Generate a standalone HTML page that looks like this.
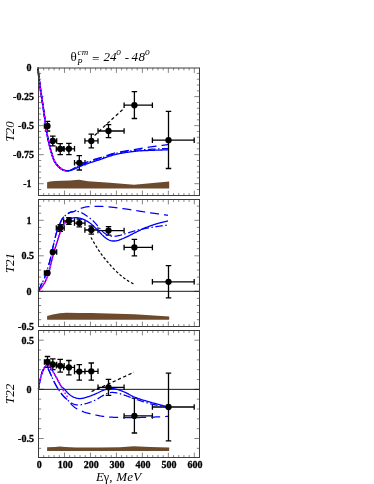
<!DOCTYPE html>
<html><head><meta charset="utf-8"><title>T20 T21 T22</title>
<style>
html,body{margin:0;padding:0;background:#fff;}
body{width:374px;height:484px;overflow:hidden;font-family:"Liberation Serif",serif;}
svg{display:block;will-change:transform;}
text{font-family:"Liberation Serif",serif;fill:#000;}
.tk{font-weight:bold;font-size:10px;stroke:#000;stroke-width:0.3px;}
.it{font-style:italic;font-size:13px;}
.sy{font-style:normal;}
</style></head><body>
<svg width="374" height="484" viewBox="0 0 374 484">
<rect width="374" height="484" fill="#fff"/>
<g>
<path d="M47.1 188.5 L47.1 182.3 L50 181.5 L55 181 L62 180.75 L70 180.6 L78.9 179.8 L88 181.2 L110 182.7 L134 184.7 L169.2 181.4 L169.2 188.5Z" fill="#6b4a2e"/>
<path d="M38.5 189.5h2.7M199.5 189.5h-2.7M38.5 183.7h5.2M199.5 183.7h-5.2M38.5 177.89h2.7M199.5 177.89h-2.7M38.5 172.09h2.7M199.5 172.09h-2.7M38.5 166.28h2.7M199.5 166.28h-2.7M38.5 160.48h2.7M199.5 160.48h-2.7M38.5 154.67h5.2M199.5 154.67h-5.2M38.5 148.87h2.7M199.5 148.87h-2.7M38.5 143.06h2.7M199.5 143.06h-2.7M38.5 137.26h2.7M199.5 137.26h-2.7M38.5 131.45h2.7M199.5 131.45h-2.7M38.5 125.65h5.2M199.5 125.65h-5.2M38.5 119.84h2.7M199.5 119.84h-2.7M38.5 114.04h2.7M199.5 114.04h-2.7M38.5 108.23h2.7M199.5 108.23h-2.7M38.5 102.43h2.7M199.5 102.43h-2.7M38.5 96.62h5.2M199.5 96.62h-5.2M38.5 90.82h2.7M199.5 90.82h-2.7M38.5 85.02h2.7M199.5 85.02h-2.7M38.5 79.21h2.7M199.5 79.21h-2.7M38.5 73.41h2.7M199.5 73.41h-2.7M43.69 195.5v-2.4M43.69 68v2.4M48.89 195.5v-2.4M48.89 68v2.4M54.08 195.5v-2.4M54.08 68v2.4M59.28 195.5v-2.4M59.28 68v2.4M64.47 195.5v-4.9M64.47 68v4.9M69.66 195.5v-2.4M69.66 68v2.4M74.86 195.5v-2.4M74.86 68v2.4M80.05 195.5v-2.4M80.05 68v2.4M85.25 195.5v-2.4M85.25 68v2.4M90.44 195.5v-4.9M90.44 68v4.9M95.63 195.5v-2.4M95.63 68v2.4M100.83 195.5v-2.4M100.83 68v2.4M106.02 195.5v-2.4M106.02 68v2.4M111.22 195.5v-2.4M111.22 68v2.4M116.41 195.5v-4.9M116.41 68v4.9M121.6 195.5v-2.4M121.6 68v2.4M126.8 195.5v-2.4M126.8 68v2.4M131.99 195.5v-2.4M131.99 68v2.4M137.19 195.5v-2.4M137.19 68v2.4M142.38 195.5v-4.9M142.38 68v4.9M147.57 195.5v-2.4M147.57 68v2.4M152.77 195.5v-2.4M152.77 68v2.4M157.96 195.5v-2.4M157.96 68v2.4M163.16 195.5v-2.4M163.16 68v2.4M168.35 195.5v-4.9M168.35 68v4.9M173.54 195.5v-2.4M173.54 68v2.4M178.74 195.5v-2.4M178.74 68v2.4M183.93 195.5v-2.4M183.93 68v2.4M189.13 195.5v-2.4M189.13 68v2.4M194.32 195.5v-4.9M194.32 68v4.9" stroke="#000" stroke-width="1" fill="none" opacity="0.48"/>
<path d="M44.4 126.1H48.9M47.5 121.3V131M44.4 123.35v5.5M48.9 123.35v5.5M44.75 121.3h5.5M44.75 131h5.5M51.4 141H56.7M52.8 136.2V145.9M51.4 138.25v5.5M56.7 138.25v5.5M50.05 136.2h5.5M50.05 145.9h5.5M56.3 148.9H64.2M60.2 143.6V154.6M56.3 146.15v5.5M64.2 146.15v5.5M57.45 143.6h5.5M57.45 154.6h5.5M63.6 148.8H74.5M68.9 143.3V154.6M63.6 146.05v5.5M74.5 146.05v5.5M66.15 143.3h5.5M66.15 154.6h5.5M74.5 162.8H85M79.3 155.6V170M74.5 160.05v5.5M85 160.05v5.5M76.55 155.6h5.5M76.55 170h5.5M84.9 140.9H98M91.3 134.1V147.9M84.9 138.15v5.5M98 138.15v5.5M88.55 134.1h5.5M88.55 147.9h5.5M98 131H124.1M108.5 124.7V137.7M98 128.25v5.5M124.1 128.25v5.5M105.75 124.7h5.5M105.75 137.7h5.5M124.1 105.2H152.4M134.4 91.7V118.5M124.1 102.45v5.5M152.4 102.45v5.5M131.65 91.7h5.5M131.65 118.5h5.5M152.4 140.2H194.2M168.5 111.3V168.5M152.4 137.45v5.5M194.2 137.45v5.5M165.75 111.3h5.5M165.75 168.5h5.5" stroke="#000" stroke-width="1.3" fill="none"/>
<path d="M37.9 67.9 L37.98 68.62 L38.05 69.34 L38.13 70.06 L38.21 70.78 L38.28 71.5 L38.36 72.22 L38.44 72.94 L38.51 73.66 L38.59 74.38 L38.67 75.1 L38.75 75.82 L38.83 76.54 L38.91 77.26 L39 77.97 L39.08 78.69 L39.17 79.41 L39.26 80.13 L39.36 80.85 L39.45 81.57 L39.55 82.28 L39.64 83 L39.74 83.72 L39.84 84.44 L39.93 85.15 L40.03 85.87 L40.13 86.59 L40.23 87.3 L40.33 88.02 L40.42 88.74 L40.52 89.46 L40.62 90.17 L40.72 90.89 L40.83 91.61 L40.93 92.32 L41.03 93.04 L41.13 93.76 L41.24 94.47 L41.34 95.19 L41.44 95.9 L41.55 96.62 L41.66 97.34 L41.77 98.05 L41.87 98.77 L41.98 99.48 L42.09 100.2 L42.2 100.91 L42.31 101.63 L42.42 102.35 L42.53 103.06 L42.64 103.78 L42.75 104.49 L42.86 105.21 L42.96 105.92 L43.07 106.64 L43.18 107.36 L43.29 108.07 L43.4 108.79 L43.5 109.5 L43.61 110.22 L43.72 110.94 L43.82 111.65 L43.93 112.37 L44.04 113.08 L44.14 113.8 L44.25 114.52 L44.35 115.23 L44.46 115.95 L44.56 116.66 L44.66 117.38 L44.76 118.1 L44.86 118.81 L44.97 119.53 L45.07 120.25 L45.16 120.97 L45.26 121.68 L45.35 122.4 L45.45 123.12 L45.54 123.84 L45.63 124.55 L45.72 125.27 L45.82 125.99 L45.91 126.71 L46.01 127.43 L46.1 128.14 L46.21 128.86 L46.31 129.58 L46.42 130.29 L46.53 131.01 L46.65 131.72 L46.77 132.43 L46.9 133.15 L47.03 133.86 L47.16 134.57 L47.3 135.28 L47.44 135.99 L47.58 136.7 L47.72 137.41 L47.86 138.12 L48.01 138.83 L48.16 139.54 L48.31 140.25 L48.46 140.95 L48.62 141.66 L48.78 142.37 L48.94 143.07 L49.1 143.78 L49.27 144.48 L49.43 145.19 L49.6 145.89 L49.77 146.6 L49.94 147.3 L50.12 148 L50.31 148.7 L50.51 149.4 L50.72 150.09 L50.93 150.78 L51.13 151.48 L51.33 152.18 L51.54 152.88 L51.74 153.58 L51.95 154.28 L52.16 154.97 L52.37 155.67 L52.59 156.36 L52.82 157.05 L53.06 157.73 L53.3 158.41 L53.56 159.08 L53.83 159.75 L54.12 160.41 L54.42 161.06 L54.76 161.69 L55.13 162.32 L55.52 162.93 L55.94 163.52 L56.38 164.11 L56.84 164.68 L57.3 165.24 L57.78 165.79 L58.26 166.34 L58.75 166.86 L59.27 167.36 L59.83 167.83 L60.41 168.27 L61.02 168.68 L61.63 169.07 L62.25 169.44 L62.9 169.76 L63.57 170.04 L64.26 170.28 L64.95 170.49 L65.66 170.67 L66.38 170.8 L67.11 170.86 L67.82 170.82 L68.53 170.68 L69.23 170.47 L69.92 170.23 L70.59 169.97 L71.25 169.67 L71.91 169.36 L72.55 169.03 L73.19 168.7 L73.82 168.34 L74.44 167.96 L75.06 167.58 L75.69 167.22 L76.33 166.88 L76.97 166.55 L77.62 166.23 L78.26 165.9 L78.91 165.57 L79.56 165.25 L80.21 164.93 L80.86 164.61 L81.51 164.3 L82.17 164 L82.83 163.7 L83.5 163.41 L84.16 163.13 L84.83 162.86 L85.5 162.59 L86.18 162.33 L86.86 162.07 L87.53 161.82 L88.21 161.57 L88.89 161.32 L89.58 161.08 L90.26 160.84 L90.94 160.6 L91.63 160.36 L92.31 160.12 L93 159.89 L93.68 159.65 L94.37 159.42 L95.05 159.18 L95.74 158.96 L96.43 158.74 L97.12 158.54 L97.82 158.34 L98.52 158.14 L99.21 157.94 L99.9 157.73 L100.6 157.51 L101.29 157.29 L101.97 157.07 L102.66 156.84 L103.35 156.61 L104.04 156.38 L104.72 156.15 L105.41 155.91 L106.1 155.68 L106.78 155.45 L107.47 155.22 L108.16 154.99 L108.85 154.77 L109.54 154.54 L110.23 154.33 L110.92 154.11 L111.61 153.91 L112.31 153.71 L113 153.51 L113.7 153.32 L114.4 153.15 L115.1 152.98 L115.81 152.81 L116.51 152.65 L117.22 152.5 L117.92 152.35 L118.63 152.2 L119.34 152.06 L120.05 151.92 L120.76 151.79 L121.47 151.66 L122.19 151.53 L122.9 151.4 L123.61 151.27 L124.33 151.15 L125.04 151.03 L125.76 150.91 L126.47 150.79 L127.19 150.68 L127.9 150.56 L128.62 150.45 L129.33 150.33 L130.05 150.22 L130.76 150.1 L131.48 149.98 L132.19 149.87 L132.91 149.75 L133.62 149.63 L134.34 149.51 L135.05 149.39 L135.77 149.27 L136.48 149.15 L137.19 149.03 L137.91 148.91 L138.62 148.79 L139.33 148.67 L140.05 148.55 L140.76 148.43 L141.48 148.32 L142.19 148.2 L142.91 148.09 L143.62 147.97 L144.34 147.86 L145.05 147.75 L145.77 147.64 L146.48 147.53 L147.2 147.42 L147.91 147.31 L148.63 147.2 L149.35 147.1 L150.06 146.99 L150.78 146.89 L151.49 146.79 L152.21 146.68 L152.93 146.58 L153.65 146.49 L154.36 146.39 L155.08 146.29 L155.8 146.19 L156.52 146.1 L157.23 146 L157.95 145.91 L158.67 145.82 L159.39 145.72 L160.1 145.63 L160.82 145.54 L161.54 145.44 L162.26 145.35 L162.98 145.26 L163.69 145.16 L164.41 145.07 L165.13 144.98 L165.85 144.88 L166.56 144.79 L167.28 144.7 L168 144.6" fill="none" stroke="#0000ff" stroke-width="1.25" stroke-dasharray="9 5" stroke-linecap="butt" stroke-linejoin="round"/>
<path d="M37.9 67.9 L37.98 68.62 L38.05 69.34 L38.13 70.05 L38.21 70.77 L38.28 71.49 L38.36 72.21 L38.43 72.93 L38.51 73.64 L38.59 74.36 L38.67 75.08 L38.75 75.8 L38.83 76.51 L38.91 77.23 L38.99 77.95 L39.08 78.66 L39.17 79.38 L39.26 80.1 L39.35 80.81 L39.45 81.53 L39.54 82.24 L39.64 82.96 L39.73 83.67 L39.83 84.39 L39.93 85.11 L40.03 85.82 L40.12 86.54 L40.22 87.25 L40.32 87.97 L40.42 88.68 L40.52 89.4 L40.62 90.11 L40.72 90.83 L40.82 91.54 L40.92 92.26 L41.02 92.97 L41.12 93.69 L41.23 94.4 L41.33 95.11 L41.43 95.83 L41.54 96.54 L41.65 97.26 L41.75 97.97 L41.86 98.68 L41.97 99.4 L42.08 100.11 L42.19 100.83 L42.3 101.54 L42.41 102.25 L42.52 102.97 L42.63 103.68 L42.73 104.39 L42.84 105.11 L42.95 105.82 L43.06 106.53 L43.16 107.25 L43.27 107.96 L43.38 108.68 L43.49 109.39 L43.59 110.1 L43.7 110.82 L43.81 111.53 L43.91 112.25 L44.02 112.96 L44.12 113.67 L44.23 114.39 L44.33 115.1 L44.44 115.82 L44.54 116.53 L44.64 117.25 L44.74 117.96 L44.85 118.68 L44.95 119.39 L45.05 120.11 L45.14 120.82 L45.24 121.54 L45.33 122.25 L45.43 122.97 L45.52 123.68 L45.61 124.4 L45.7 125.12 L45.8 125.83 L45.89 126.55 L45.98 127.26 L46.08 127.98 L46.18 128.69 L46.28 129.41 L46.39 130.12 L46.5 130.84 L46.62 131.55 L46.74 132.26 L46.87 132.97 L47 133.68 L47.13 134.39 L47.27 135.1 L47.4 135.81 L47.54 136.52 L47.68 137.22 L47.83 137.93 L47.97 138.64 L48.12 139.35 L48.27 140.05 L48.42 140.76 L48.57 141.46 L48.73 142.17 L48.89 142.87 L49.05 143.58 L49.22 144.28 L49.38 144.98 L49.55 145.68 L49.71 146.39 L49.89 147.09 L50.06 147.79 L50.25 148.49 L50.44 149.18 L50.65 149.87 L50.86 150.56 L51.07 151.26 L51.27 151.96 L51.47 152.65 L51.67 153.35 L51.88 154.05 L52.09 154.74 L52.3 155.44 L52.52 156.13 L52.74 156.82 L52.97 157.5 L53.22 158.18 L53.47 158.85 L53.74 159.52 L54.02 160.18 L54.31 160.83 L54.63 161.47 L54.99 162.09 L55.37 162.71 L55.78 163.31 L56.22 163.89 L56.67 164.47 L57.13 165.03 L57.6 165.59 L58.08 166.13 L58.56 166.66 L59.07 167.17 L59.61 167.65 L60.18 168.1 L60.78 168.52 L61.39 168.92 L62 169.3 L62.63 169.64 L63.3 169.93 L63.98 170.19 L64.67 170.4 L65.36 170.6 L66.08 170.74 L66.8 170.83 L67.52 170.85 L68.24 170.79 L68.95 170.67 L69.66 170.5 L70.35 170.29 L71.03 170.05 L71.7 169.78 L72.37 169.49 L73.02 169.19 L73.66 168.86 L74.29 168.5 L74.91 168.14 L75.54 167.79 L76.19 167.46 L76.84 167.14 L77.49 166.83 L78.14 166.52 L78.79 166.21 L79.44 165.9 L80.1 165.59 L80.76 165.29 L81.41 164.99 L82.07 164.7 L82.74 164.42 L83.4 164.14 L84.07 163.87 L84.74 163.61 L85.42 163.35 L86.09 163.09 L86.77 162.84 L87.45 162.6 L88.13 162.35 L88.81 162.11 L89.49 161.87 L90.17 161.64 L90.86 161.4 L91.54 161.17 L92.22 160.94 L92.91 160.71 L93.59 160.47 L94.28 160.24 L94.96 160.01 L95.65 159.79 L96.34 159.58 L97.03 159.37 L97.72 159.18 L98.42 158.98 L99.11 158.77 L99.8 158.56 L100.49 158.34 L101.17 158.12 L101.86 157.88 L102.54 157.65 L103.22 157.41 L103.91 157.16 L104.59 156.92 L105.27 156.68 L105.95 156.43 L106.63 156.19 L107.31 155.95 L108 155.71 L108.68 155.47 L109.36 155.24 L110.05 155.01 L110.73 154.79 L111.42 154.57 L112.11 154.36 L112.8 154.16 L113.5 153.97 L114.2 153.79 L114.9 153.62 L115.6 153.46 L116.3 153.31 L117 153.16 L117.71 153.01 L118.42 152.87 L119.12 152.73 L119.83 152.6 L120.54 152.47 L121.25 152.34 L121.97 152.22 L122.68 152.1 L123.39 151.98 L124.11 151.87 L124.82 151.76 L125.54 151.65 L126.25 151.55 L126.97 151.44 L127.68 151.34 L128.4 151.24 L129.12 151.15 L129.83 151.05 L130.55 150.96 L131.27 150.87 L131.99 150.77 L132.7 150.68 L133.42 150.6 L134.14 150.51 L134.85 150.42 L135.57 150.33 L136.28 150.25 L137 150.18 L137.72 150.1 L138.44 150.04 L139.16 149.97 L139.88 149.92 L140.6 149.86 L141.32 149.81 L142.04 149.76 L142.76 149.71 L143.48 149.67 L144.2 149.62 L144.92 149.58 L145.64 149.54 L146.36 149.5 L147.09 149.46 L147.81 149.42 L148.53 149.38 L149.25 149.34 L149.97 149.3 L150.69 149.26 L151.41 149.22 L152.13 149.18 L152.85 149.15 L153.57 149.11 L154.3 149.08 L155.02 149.04 L155.74 149.01 L156.46 148.98 L157.18 148.95 L157.9 148.92 L158.62 148.89 L159.34 148.86 L160.07 148.83 L160.79 148.8 L161.51 148.77 L162.23 148.74 L162.95 148.71 L163.67 148.68 L164.39 148.65 L165.11 148.62 L165.84 148.59 L166.56 148.56 L167.28 148.53 L168 148.5" fill="none" stroke="#0000ff" stroke-width="1.25" stroke-dasharray="7.5 2.5 1.5 2.5" stroke-linecap="butt" stroke-linejoin="round"/>
<path d="M37.9 67.9 L37.98 68.62 L38.05 69.33 L38.13 70.05 L38.21 70.77 L38.28 71.48 L38.36 72.2 L38.43 72.92 L38.51 73.63 L38.59 74.35 L38.66 75.07 L38.74 75.78 L38.82 76.5 L38.91 77.22 L38.99 77.93 L39.08 78.65 L39.17 79.36 L39.26 80.08 L39.35 80.79 L39.44 81.51 L39.54 82.22 L39.63 82.94 L39.73 83.65 L39.83 84.36 L39.92 85.08 L40.02 85.79 L40.12 86.51 L40.22 87.22 L40.31 87.93 L40.41 88.65 L40.51 89.36 L40.61 90.08 L40.71 90.79 L40.81 91.5 L40.91 92.22 L41.01 92.93 L41.12 93.64 L41.22 94.36 L41.32 95.07 L41.43 95.78 L41.53 96.5 L41.64 97.21 L41.75 97.92 L41.85 98.64 L41.96 99.35 L42.07 100.06 L42.18 100.77 L42.29 101.49 L42.4 102.2 L42.51 102.91 L42.62 103.62 L42.73 104.34 L42.83 105.05 L42.94 105.76 L43.05 106.47 L43.15 107.19 L43.26 107.9 L43.37 108.61 L43.48 109.33 L43.58 110.04 L43.69 110.75 L43.8 111.46 L43.9 112.18 L44.01 112.89 L44.11 113.6 L44.22 114.32 L44.32 115.03 L44.43 115.74 L44.53 116.46 L44.63 117.17 L44.73 117.88 L44.83 118.6 L44.93 119.31 L45.03 120.02 L45.13 120.74 L45.23 121.45 L45.32 122.17 L45.42 122.88 L45.51 123.6 L45.6 124.31 L45.69 125.03 L45.78 125.74 L45.88 126.46 L45.97 127.17 L46.07 127.88 L46.17 128.6 L46.27 129.31 L46.38 130.02 L46.49 130.74 L46.6 131.45 L46.72 132.16 L46.85 132.87 L46.98 133.58 L47.11 134.29 L47.25 134.99 L47.38 135.7 L47.52 136.41 L47.66 137.12 L47.8 137.82 L47.95 138.53 L48.09 139.24 L48.24 139.94 L48.39 140.64 L48.55 141.35 L48.71 142.05 L48.87 142.76 L49.03 143.46 L49.19 144.16 L49.35 144.86 L49.52 145.56 L49.69 146.27 L49.86 146.97 L50.03 147.67 L50.21 148.36 L50.41 149.06 L50.61 149.75 L50.82 150.44 L51.03 151.13 L51.23 151.83 L51.43 152.52 L51.64 153.22 L51.84 153.92 L52.05 154.61 L52.26 155.3 L52.47 155.99 L52.7 156.68 L52.93 157.37 L53.17 158.04 L53.42 158.72 L53.68 159.38 L53.96 160.04 L54.25 160.69 L54.56 161.33 L54.91 161.96 L55.29 162.58 L55.7 163.18 L56.12 163.77 L56.57 164.35 L57.03 164.91 L57.5 165.47 L57.97 166.01 L58.45 166.55 L58.95 167.06 L59.48 167.55 L60.05 168 L60.64 168.43 L61.25 168.83 L61.86 169.21 L62.48 169.57 L63.14 169.87 L63.82 170.13 L64.51 170.36 L65.2 170.55 L65.9 170.7 L66.62 170.8 L67.34 170.85 L68.06 170.84 L68.78 170.79 L69.5 170.69 L70.21 170.56 L70.91 170.39 L71.6 170.19 L72.29 169.96 L72.97 169.71 L73.63 169.43 L74.27 169.11 L74.92 168.78 L75.56 168.45 L76.21 168.15 L76.87 167.85 L77.53 167.56 L78.19 167.26 L78.84 166.96 L79.5 166.67 L80.16 166.38 L80.82 166.09 L81.48 165.8 L82.15 165.53 L82.82 165.26 L83.49 164.99 L84.16 164.74 L84.84 164.49 L85.52 164.25 L86.2 164.02 L86.88 163.79 L87.57 163.56 L88.25 163.34 L88.94 163.12 L89.62 162.9 L90.31 162.68 L91 162.47 L91.69 162.25 L92.38 162.04 L93.06 161.82 L93.75 161.6 L94.44 161.38 L95.12 161.16 L95.81 160.94 L96.5 160.72 L97.18 160.5 L97.87 160.29 L98.56 160.07 L99.24 159.85 L99.93 159.62 L100.61 159.39 L101.3 159.16 L101.98 158.92 L102.66 158.68 L103.34 158.44 L104.02 158.19 L104.7 157.94 L105.37 157.69 L106.05 157.45 L106.73 157.2 L107.41 156.95 L108.09 156.71 L108.77 156.47 L109.45 156.24 L110.14 156.01 L110.82 155.78 L111.51 155.56 L112.2 155.35 L112.89 155.15 L113.58 154.96 L114.27 154.78 L114.97 154.61 L115.67 154.44 L116.37 154.28 L117.08 154.13 L117.78 153.98 L118.48 153.83 L119.19 153.69 L119.9 153.55 L120.61 153.42 L121.32 153.29 L122.03 153.16 L122.74 153.03 L123.45 152.91 L124.16 152.8 L124.87 152.68 L125.59 152.57 L126.3 152.46 L127.01 152.35 L127.73 152.25 L128.44 152.15 L129.16 152.05 L129.88 151.95 L130.59 151.85 L131.31 151.76 L132.02 151.67 L132.74 151.58 L133.45 151.49 L134.17 151.4 L134.88 151.31 L135.6 151.23 L136.31 151.15 L137.03 151.08 L137.75 151.02 L138.47 150.96 L139.18 150.91 L139.9 150.86 L140.62 150.81 L141.34 150.77 L142.06 150.73 L142.78 150.7 L143.5 150.66 L144.22 150.63 L144.95 150.6 L145.67 150.58 L146.39 150.55 L147.11 150.52 L147.83 150.49 L148.55 150.46 L149.27 150.43 L149.99 150.4 L150.71 150.37 L151.43 150.34 L152.15 150.31 L152.87 150.28 L153.59 150.25 L154.31 150.23 L155.03 150.2 L155.75 150.18 L156.47 150.15 L157.19 150.13 L157.91 150.11 L158.63 150.08 L159.35 150.06 L160.07 150.04 L160.8 150.02 L161.52 150 L162.24 149.98 L162.96 149.96 L163.68 149.93 L164.4 149.91 L165.12 149.89 L165.84 149.87 L166.56 149.85 L167.28 149.82 L168 149.8" fill="none" stroke="#0000ff" stroke-width="1.3" stroke-linecap="butt" stroke-linejoin="round"/>
<path d="M37.9 67.9 L37.94 68.27 L37.98 68.64 L38.02 69.02 L38.06 69.39 L38.1 69.76 L38.14 70.13 L38.18 70.5 L38.22 70.88 L38.26 71.25 L38.3 71.62 L38.34 71.99 L38.37 72.36 L38.41 72.74 L38.45 73.11 L38.49 73.48 L38.53 73.85 L38.57 74.23 L38.61 74.6 L38.65 74.97 L38.69 75.34 L38.74 75.71 L38.78 76.08 L38.82 76.46 L38.86 76.83 L38.91 77.2 L38.95 77.57 L38.99 77.94 L39.04 78.31 L39.08 78.69 L39.13 79.06 L39.18 79.43 L39.22 79.8 L39.27 80.17 L39.32 80.54 L39.37 80.91 L39.41 81.28 L39.46 81.66 L39.51 82.03 L39.56 82.4 L39.61 82.77 L39.66 83.14 L39.71 83.51 L39.76 83.88 L39.81 84.25 L39.86 84.62 L39.91 84.99 L39.96 85.36 L40.01 85.73 L40.06 86.1 L40.11 86.48 L40.17 86.85 L40.22 87.22 L40.27 87.59 L40.32 87.96 L40.37 88.33 L40.42 88.7 L40.47 89.07 L40.52 89.44 L40.57 89.81 L40.63 90.18 L40.68 90.55 L40.73 90.92 L40.78 91.29 L40.83 91.66 L40.89 92.03 L40.94 92.41 L40.99 92.78 L41.04 93.15 L41.1 93.52 L41.15 93.89 L41.2 94.26 L41.26 94.63 L41.31 95 L41.37 95.37 L41.42 95.74 L41.47 96.11 L41.53 96.48 L41.58 96.85 L41.64 97.22 L41.7 97.59 L41.75 97.96 L41.81 98.33 L41.86 98.7 L41.92 99.07 L41.98 99.44 L42.03 99.81 L42.09 100.18 L42.15 100.55 L42.2 100.92 L42.26 101.29 L42.32 101.66 L42.37 102.03 L42.43 102.4 L42.49 102.77 L42.54 103.14 L42.6 103.51 L42.66 103.88 L42.71 104.25 L42.77 104.62 L42.82 104.99 L42.88 105.36 L42.93 105.73 L42.99 106.1 L43.05 106.47 L43.1 106.84 L43.16 107.21 L43.21 107.58 L43.27 107.95 L43.32 108.32 L43.38 108.69 L43.44 109.06 L43.49 109.43 L43.55 109.8 L43.6 110.17 L43.66 110.54 L43.71 110.91 L43.77 111.28 L43.82 111.65 L43.88 112.02 L43.93 112.39 L43.99 112.76 L44.04 113.13 L44.1 113.5 L44.15 113.87 L44.21 114.24 L44.26 114.61 L44.31 114.98 L44.37 115.35 L44.42 115.72 L44.48 116.09 L44.53 116.46 L44.58 116.83 L44.64 117.2 L44.69 117.57 L44.74 117.94 L44.79 118.31 L44.85 118.68 L44.9 119.05 L44.95 119.42 L45 119.79 L45.05 120.16 L45.1 120.53 L45.16 120.91 L45.21 121.28 L45.26 121.65 L45.3 122.02 L45.35 122.39 L45.4 122.76 L45.45 123.13 L45.5 123.5 L45.54 123.87 L45.59 124.24 L45.64 124.62 L45.69 124.99 L45.73 125.36 L45.78 125.73 L45.83 126.1 L45.88 126.47 L45.93 126.84 L45.98 127.21 L46.03 127.58 L46.08 127.96 L46.13 128.33 L46.18 128.7 L46.23 129.07 L46.29 129.44 L46.34 129.81 L46.4 130.18 L46.46 130.55 L46.52 130.92 L46.58 131.28 L46.64 131.65 L46.7 132.02 L46.76 132.39 L46.83 132.76 L46.9 133.13 L46.96 133.5 L47.03 133.86 L47.1 134.23 L47.17 134.6 L47.24 134.97 L47.31 135.33 L47.38 135.7 L47.45 136.07 L47.53 136.44 L47.6 136.8 L47.67 137.17 L47.75 137.54 L47.82 137.9 L47.9 138.27 L47.97 138.64 L48.05 139 L48.12 139.37 L48.2 139.74 L48.28 140.1 L48.36 140.47 L48.44 140.83 L48.52 141.2 L48.6 141.56 L48.68 141.93 L48.76 142.29 L48.84 142.66 L48.93 143.02 L49.01 143.39 L49.1 143.75 L49.18 144.12 L49.27 144.48 L49.35 144.85 L49.44 145.21 L49.52 145.58 L49.61 145.94 L49.69 146.3 L49.78 146.67 L49.87 147.03 L49.96 147.39 L50.05 147.76 L50.15 148.12 L50.25 148.48 L50.35 148.84 L50.45 149.2 L50.56 149.56 L50.67 149.92 L50.77 150.28 L50.88 150.63 L50.99 150.99 L51.09 151.35 L51.2 151.72 L51.3 152.08 L51.41 152.44 L51.51 152.8 L51.62 153.16 L51.72 153.52 L51.83 153.88 L51.94 154.25 L52.04 154.61 L52.15 154.97 L52.26 155.33 L52.38 155.69 L52.49 156.04 L52.6 156.4 L52.72 156.76 L52.84 157.11 L52.96 157.47 L53.09 157.82 L53.21 158.17 L53.34 158.52 L53.48 158.87 L53.61 159.21 L53.75 159.56 L53.9 159.9 L54.04 160.24 L54.2 160.58 L54.35 160.91 L54.52 161.24 L54.69 161.57 L54.88 161.9 L55.07 162.22 L55.27 162.54 L55.47 162.85 L55.68 163.16 L55.9 163.47 L56.13 163.77 L56.36 164.08 L56.59 164.37 L56.83 164.67 L57.07 164.96 L57.31 165.25 L57.56 165.54 L57.8 165.82 L58.05 166.1 L58.3 166.38 L58.55 166.65 L58.81 166.92 L59.07 167.18 L59.35 167.43 L59.64 167.68 L59.93 167.91 L60.24 168.14 L60.54 168.36 L60.85 168.57 L61.17 168.78 L61.49 168.98 L61.8 169.18 L62.12 169.37 L62.45 169.55 L62.79 169.71 L63.13 169.87 L63.48 170.01 L63.83 170.14 L64.19 170.26 L64.55 170.37 L64.91 170.47 L65.27 170.57 L65.63 170.64 L66.01 170.69 L66.38 170.73 L66.75 170.77 L67.13 170.8 L67.5 170.85" fill="none" stroke="#0000ff" stroke-width="1.7" stroke-linecap="butt" stroke-linejoin="round"/>
<path d="M37.9 67.9 L37.94 68.27 L37.98 68.64 L38.02 69.02 L38.06 69.39 L38.1 69.76 L38.14 70.13 L38.18 70.5 L38.22 70.88 L38.26 71.25 L38.3 71.62 L38.34 71.99 L38.37 72.36 L38.41 72.74 L38.45 73.11 L38.49 73.48 L38.53 73.85 L38.57 74.23 L38.61 74.6 L38.65 74.97 L38.69 75.34 L38.74 75.71 L38.78 76.08 L38.82 76.46 L38.86 76.83 L38.91 77.2 L38.95 77.57 L38.99 77.94 L39.04 78.31 L39.08 78.69 L39.13 79.06 L39.18 79.43 L39.22 79.8 L39.27 80.17 L39.32 80.54 L39.37 80.91 L39.41 81.28 L39.46 81.66 L39.51 82.03 L39.56 82.4 L39.61 82.77 L39.66 83.14 L39.71 83.51 L39.76 83.88 L39.81 84.25 L39.86 84.62 L39.91 84.99 L39.96 85.36 L40.01 85.73 L40.06 86.1 L40.11 86.48 L40.17 86.85 L40.22 87.22 L40.27 87.59 L40.32 87.96 L40.37 88.33 L40.42 88.7 L40.47 89.07 L40.52 89.44 L40.57 89.81 L40.63 90.18 L40.68 90.55 L40.73 90.92 L40.78 91.29 L40.83 91.66 L40.89 92.03 L40.94 92.41 L40.99 92.78 L41.04 93.15 L41.1 93.52 L41.15 93.89 L41.2 94.26 L41.26 94.63 L41.31 95 L41.37 95.37 L41.42 95.74 L41.47 96.11 L41.53 96.48 L41.58 96.85 L41.64 97.22 L41.7 97.59 L41.75 97.96 L41.81 98.33 L41.86 98.7 L41.92 99.07 L41.98 99.44 L42.03 99.81 L42.09 100.18 L42.15 100.55 L42.2 100.92 L42.26 101.29 L42.32 101.66 L42.37 102.03 L42.43 102.4 L42.49 102.77 L42.54 103.14 L42.6 103.51 L42.66 103.88 L42.71 104.25 L42.77 104.62 L42.82 104.99 L42.88 105.36 L42.93 105.73 L42.99 106.1 L43.05 106.47 L43.1 106.84 L43.16 107.21 L43.21 107.58 L43.27 107.95 L43.32 108.32 L43.38 108.69 L43.44 109.06 L43.49 109.43 L43.55 109.8 L43.6 110.17 L43.66 110.54 L43.71 110.91 L43.77 111.28 L43.82 111.65 L43.88 112.02 L43.93 112.39 L43.99 112.76 L44.04 113.13 L44.1 113.5 L44.15 113.87 L44.21 114.24 L44.26 114.61 L44.31 114.98 L44.37 115.35 L44.42 115.72 L44.48 116.09 L44.53 116.46 L44.58 116.83 L44.64 117.2 L44.69 117.57 L44.74 117.94 L44.79 118.31 L44.85 118.68 L44.9 119.05 L44.95 119.42 L45 119.79 L45.05 120.16 L45.1 120.53 L45.16 120.91 L45.21 121.28 L45.26 121.65 L45.3 122.02 L45.35 122.39 L45.4 122.76 L45.45 123.13 L45.5 123.5 L45.54 123.87 L45.59 124.24 L45.64 124.62 L45.69 124.99 L45.73 125.36 L45.78 125.73 L45.83 126.1 L45.88 126.47 L45.93 126.84 L45.98 127.21 L46.03 127.58 L46.08 127.96 L46.13 128.33 L46.18 128.7 L46.23 129.07 L46.29 129.44 L46.34 129.81 L46.4 130.18 L46.46 130.55 L46.52 130.92 L46.58 131.28 L46.64 131.65 L46.7 132.02 L46.76 132.39 L46.83 132.76 L46.9 133.13 L46.96 133.5 L47.03 133.86 L47.1 134.23 L47.17 134.6 L47.24 134.97 L47.31 135.33 L47.38 135.7 L47.45 136.07 L47.53 136.44 L47.6 136.8 L47.67 137.17 L47.75 137.54 L47.82 137.9 L47.9 138.27 L47.97 138.64 L48.05 139 L48.12 139.37 L48.2 139.74 L48.28 140.1 L48.36 140.47 L48.44 140.83 L48.52 141.2 L48.6 141.56 L48.68 141.93 L48.76 142.29 L48.84 142.66 L48.93 143.02 L49.01 143.39 L49.1 143.75 L49.18 144.12 L49.27 144.48 L49.35 144.85 L49.44 145.21 L49.52 145.58 L49.61 145.94 L49.69 146.3 L49.78 146.67 L49.87 147.03 L49.96 147.39 L50.05 147.76 L50.15 148.12 L50.25 148.48 L50.35 148.84 L50.45 149.2 L50.56 149.56 L50.67 149.92 L50.77 150.28 L50.88 150.63 L50.99 150.99 L51.09 151.35 L51.2 151.72 L51.3 152.08 L51.41 152.44 L51.51 152.8 L51.62 153.16 L51.72 153.52 L51.83 153.88 L51.94 154.25 L52.04 154.61 L52.15 154.97 L52.26 155.33 L52.38 155.69 L52.49 156.04 L52.6 156.4 L52.72 156.76 L52.84 157.11 L52.96 157.47 L53.09 157.82 L53.21 158.17 L53.34 158.52 L53.48 158.87 L53.61 159.21 L53.75 159.56 L53.9 159.9 L54.04 160.24 L54.2 160.58 L54.35 160.91 L54.52 161.24 L54.69 161.57 L54.88 161.9 L55.07 162.22 L55.27 162.54 L55.47 162.85 L55.68 163.16 L55.9 163.47 L56.13 163.77 L56.36 164.08 L56.59 164.37 L56.83 164.67 L57.07 164.96 L57.31 165.25 L57.56 165.54 L57.8 165.82 L58.05 166.1 L58.3 166.38 L58.55 166.65 L58.81 166.92 L59.07 167.18 L59.35 167.43 L59.64 167.68 L59.93 167.91 L60.24 168.14 L60.54 168.36 L60.85 168.57 L61.17 168.78 L61.49 168.98 L61.8 169.18 L62.12 169.37 L62.45 169.55 L62.79 169.71 L63.13 169.87 L63.48 170.01 L63.83 170.14 L64.19 170.26 L64.55 170.37 L64.91 170.47 L65.27 170.57 L65.63 170.64 L66.01 170.69 L66.38 170.73 L66.75 170.77 L67.13 170.8 L67.5 170.85" fill="none" stroke="#ff00ff" stroke-width="2.0" stroke-dasharray="0.1 3.4" stroke-linecap="round" stroke-linejoin="round"/>
<path d="M94.6 135.5 L94.7 135.41 L94.8 135.32 L94.89 135.22 L94.99 135.13 L95.09 135.04 L95.19 134.95 L95.29 134.85 L95.38 134.76 L95.48 134.67 L95.58 134.58 L95.68 134.48 L95.78 134.39 L95.87 134.3 L95.97 134.21 L96.07 134.11 L96.17 134.02 L96.27 133.93 L96.36 133.84 L96.46 133.74 L96.56 133.65 L96.66 133.56 L96.76 133.47 L96.85 133.37 L96.95 133.28 L97.05 133.19 L97.15 133.1 L97.25 133 L97.34 132.91 L97.44 132.82 L97.54 132.73 L97.64 132.63 L97.73 132.54 L97.83 132.45 L97.93 132.36 L98.03 132.26 L98.13 132.17 L98.22 132.08 L98.32 131.99 L98.42 131.89 L98.52 131.8 L98.62 131.71 L98.71 131.62 L98.81 131.52 L98.91 131.43 L99.01 131.34 L99.1 131.25 L99.2 131.15 L99.3 131.06 L99.4 130.97 L99.5 130.88 L99.59 130.78 L99.69 130.69 L99.79 130.6 L99.89 130.51 L99.98 130.41 L100.08 130.32 L100.18 130.23 L100.28 130.14 L100.38 130.04 L100.47 129.95 L100.57 129.86 L100.67 129.77 L100.77 129.67 L100.87 129.58 L100.96 129.49 L101.06 129.4 L101.16 129.3 L101.26 129.21 L101.35 129.12 L101.45 129.03 L101.55 128.93 L101.65 128.84 L101.75 128.75 L101.84 128.66 L101.94 128.56 L102.04 128.47 L102.14 128.38 L102.24 128.29 L102.33 128.19 L102.43 128.1 L102.53 128.01 L102.63 127.92 L102.73 127.82 L102.82 127.73 L102.92 127.64 L103.02 127.55 L103.12 127.45 L103.22 127.36 L103.31 127.27 L103.41 127.18 L103.51 127.09 L103.61 126.99 L103.71 126.9 L103.81 126.81 L103.9 126.72 L104 126.62 L104.1 126.53 L104.2 126.44 L104.3 126.35 L104.39 126.26 L104.49 126.16 L104.59 126.07 L104.69 125.98 L104.79 125.89 L104.89 125.8 L104.98 125.7 L105.08 125.61 L105.18 125.52 L105.28 125.43 L105.38 125.34 L105.48 125.24 L105.57 125.15 L105.67 125.06 L105.77 124.97 L105.87 124.88 L105.97 124.78 L106.07 124.69 L106.17 124.6 L106.26 124.51 L106.36 124.42 L106.46 124.33 L106.56 124.23 L106.66 124.14 L106.76 124.05 L106.86 123.96 L106.95 123.87 L107.05 123.78 L107.15 123.68 L107.25 123.59 L107.35 123.5 L107.45 123.41 L107.55 123.32 L107.65 123.23 L107.75 123.14 L107.84 123.04 L107.94 122.95 L108.04 122.86 L108.14 122.77 L108.24 122.68 L108.34 122.59 L108.44 122.5 L108.54 122.4 L108.64 122.31 L108.74 122.22 L108.83 122.13 L108.93 122.04 L109.03 121.95 L109.13 121.86 L109.23 121.77 L109.33 121.68 L109.43 121.58 L109.53 121.49 L109.63 121.4 L109.73 121.31 L109.83 121.22 L109.93 121.13 L110.03 121.04 L110.13 120.95 L110.22 120.86 L110.32 120.77 L110.42 120.68 L110.52 120.58 L110.62 120.49 L110.72 120.4 L110.82 120.31 L110.92 120.22 L111.02 120.13 L111.12 120.04 L111.22 119.95 L111.32 119.86 L111.42 119.77 L111.52 119.68 L111.62 119.59 L111.72 119.5 L111.82 119.4 L111.92 119.31 L112.02 119.22 L112.11 119.13 L112.21 119.04 L112.31 118.95 L112.41 118.86 L112.51 118.77 L112.61 118.68 L112.71 118.59 L112.81 118.5 L112.91 118.41 L113.01 118.32 L113.11 118.23 L113.21 118.14 L113.31 118.05 L113.41 117.95 L113.51 117.86 L113.61 117.77 L113.71 117.68 L113.81 117.59 L113.91 117.5 L114.01 117.41 L114.11 117.32 L114.21 117.23 L114.31 117.14 L114.41 117.05 L114.51 116.96 L114.61 116.87 L114.71 116.78 L114.81 116.69 L114.91 116.6 L115.01 116.51 L115.11 116.42 L115.21 116.33 L115.31 116.24 L115.41 116.15 L115.51 116.06 L115.61 115.97 L115.71 115.88 L115.81 115.79 L115.91 115.7 L116.01 115.6 L116.11 115.51 L116.21 115.42 L116.31 115.33 L116.41 115.24 L116.51 115.15 L116.61 115.06 L116.71 114.97 L116.81 114.88 L116.91 114.79 L117.01 114.7 L117.11 114.61 L117.21 114.52 L117.31 114.43 L117.41 114.34 L117.51 114.25 L117.61 114.16 L117.71 114.07 L117.81 113.98 L117.91 113.89 L118.01 113.8 L118.11 113.71 L118.21 113.62 L118.31 113.53 L118.41 113.44 L118.51 113.35 L118.61 113.26 L118.71 113.17 L118.81 113.08 L118.91 112.99 L119.01 112.9 L119.11 112.81 L119.21 112.72 L119.31 112.63 L119.41 112.54 L119.51 112.45 L119.61 112.36 L119.71 112.27 L119.81 112.18 L119.91 112.08 L120.01 111.99 L120.11 111.9 L120.21 111.81 L120.3 111.72 L120.4 111.63 L120.5 111.54 L120.6 111.45 L120.7 111.36 L120.8 111.27 L120.9 111.18 L121 111.09 L121.1 111 L121.2 110.91 L121.3 110.82 L121.4 110.73 L121.5 110.64 L121.6 110.55 L121.7 110.46 L121.8 110.37 L121.9 110.28 L122 110.19 L122.1 110.1 L122.2 110.01 L122.3 109.92 L122.4 109.83 L122.5 109.74 L122.6 109.65 L122.7 109.56 L122.8 109.47 L122.9 109.38 L123 109.29 L123.1 109.19 L123.2 109.1 L123.3 109.01 L123.4 108.92 L123.5 108.83 L123.6 108.74 L123.7 108.65 L123.8 108.56 L123.9 108.47 L124 108.38 L124.1 108.29 L124.2 108.2" fill="none" stroke="#000" stroke-width="1.25" stroke-dasharray="3.3 2.5" stroke-linecap="butt" stroke-linejoin="round"/>
<circle cx="47.5" cy="126.1" r="3.15" fill="#000"/>
<circle cx="52.8" cy="141" r="3.15" fill="#000"/>
<circle cx="60.2" cy="148.9" r="3.15" fill="#000"/>
<circle cx="68.9" cy="148.8" r="3.15" fill="#000"/>
<circle cx="79.3" cy="162.8" r="3.15" fill="#000"/>
<circle cx="91.3" cy="140.9" r="3.15" fill="#000"/>
<circle cx="108.5" cy="131" r="3.15" fill="#000"/>
<circle cx="134.4" cy="105.2" r="3.15" fill="#000"/>
<circle cx="168.5" cy="140.2" r="3.15" fill="#000"/>
<rect x="38.5" y="68" width="161" height="127.5" fill="none" stroke="#3c3c3c" stroke-width="1"/>
<text x="31.5" y="71" text-anchor="end" class="tk">0</text>
<text x="33.9" y="100.03" text-anchor="end" class="tk">-0.25</text>
<text x="33.9" y="129.05" text-anchor="end" class="tk">-0.5</text>
<text x="33.9" y="158.07" text-anchor="end" class="tk">-0.75</text>
<text x="31.5" y="187.1" text-anchor="end" class="tk">-1</text>
</g>
<g>
<path d="M47.1 319.7 L47.1 315.9 L52.8 314.4 L59.9 313.2 L66.2 312.7 L79.3 312.9 L91.3 313.1 L108.5 313.4 L134.4 314.3 L169.2 316.5 L169.2 319.7Z" fill="#6b4a2e"/>
<path d="M38.5 291.3H199.5" stroke="#1a1a1a" stroke-width="1"/>
<path d="M38.5 319.7h2.7M199.5 319.7h-2.7M38.5 312.6h2.7M199.5 312.6h-2.7M38.5 305.5h2.7M199.5 305.5h-2.7M38.5 298.4h2.7M199.5 298.4h-2.7M38.5 291.3h5.2M199.5 291.3h-5.2M38.5 284.2h2.7M199.5 284.2h-2.7M38.5 277.1h2.7M199.5 277.1h-2.7M38.5 270h2.7M199.5 270h-2.7M38.5 262.9h2.7M199.5 262.9h-2.7M38.5 255.8h5.2M199.5 255.8h-5.2M38.5 248.7h2.7M199.5 248.7h-2.7M38.5 241.6h2.7M199.5 241.6h-2.7M38.5 234.5h2.7M199.5 234.5h-2.7M38.5 227.4h2.7M199.5 227.4h-2.7M38.5 220.3h5.2M199.5 220.3h-5.2M38.5 213.2h2.7M199.5 213.2h-2.7M38.5 206.1h2.7M199.5 206.1h-2.7M43.69 326.5v-2.4M43.69 199.5v2.4M48.89 326.5v-2.4M48.89 199.5v2.4M54.08 326.5v-2.4M54.08 199.5v2.4M59.28 326.5v-2.4M59.28 199.5v2.4M64.47 326.5v-4.9M64.47 199.5v4.9M69.66 326.5v-2.4M69.66 199.5v2.4M74.86 326.5v-2.4M74.86 199.5v2.4M80.05 326.5v-2.4M80.05 199.5v2.4M85.25 326.5v-2.4M85.25 199.5v2.4M90.44 326.5v-4.9M90.44 199.5v4.9M95.63 326.5v-2.4M95.63 199.5v2.4M100.83 326.5v-2.4M100.83 199.5v2.4M106.02 326.5v-2.4M106.02 199.5v2.4M111.22 326.5v-2.4M111.22 199.5v2.4M116.41 326.5v-4.9M116.41 199.5v4.9M121.6 326.5v-2.4M121.6 199.5v2.4M126.8 326.5v-2.4M126.8 199.5v2.4M131.99 326.5v-2.4M131.99 199.5v2.4M137.19 326.5v-2.4M137.19 199.5v2.4M142.38 326.5v-4.9M142.38 199.5v4.9M147.57 326.5v-2.4M147.57 199.5v2.4M152.77 326.5v-2.4M152.77 199.5v2.4M157.96 326.5v-2.4M157.96 199.5v2.4M163.16 326.5v-2.4M163.16 199.5v2.4M168.35 326.5v-4.9M168.35 199.5v4.9M173.54 326.5v-2.4M173.54 199.5v2.4M178.74 326.5v-2.4M178.74 199.5v2.4M183.93 326.5v-2.4M183.93 199.5v2.4M189.13 326.5v-2.4M189.13 199.5v2.4M194.32 326.5v-4.9M194.32 199.5v4.9" stroke="#000" stroke-width="1" fill="none" opacity="0.48"/>
<path d="M44.4 272.9H48.9M47.5 272.6V273.2M44.4 270.15v5.5M48.9 270.15v5.5M44.75 272.6h5.5M44.75 273.2h5.5M51.4 252.1H56.7M52.8 251.8V252.4M51.4 249.35v5.5M56.7 249.35v5.5M50.05 251.8h5.5M50.05 252.4h5.5M56.3 228H64.2M60.2 224.6V231.4M56.3 225.25v5.5M64.2 225.25v5.5M57.45 224.6h5.5M57.45 231.4h5.5M63.6 221H74.5M68.9 217.6V224.4M63.6 218.25v5.5M74.5 218.25v5.5M66.15 217.6h5.5M66.15 224.4h5.5M74.5 223.1H85M79.3 219V226.9M74.5 220.35v5.5M85 220.35v5.5M76.55 219h5.5M76.55 226.9h5.5M84.9 230H98M91.3 226V234.1M84.9 227.25v5.5M98 227.25v5.5M88.55 226h5.5M88.55 234.1h5.5M98 230.6H124.1M108.5 226.6V235.2M98 227.85v5.5M124.1 227.85v5.5M105.75 226.6h5.5M105.75 235.2h5.5M124.1 247.4H152.4M134.4 239.4V255.9M124.1 244.65v5.5M152.4 244.65v5.5M131.65 239.4h5.5M131.65 255.9h5.5M152.4 281.8H194.2M168.5 265.7V297.8M152.4 279.05v5.5M194.2 279.05v5.5M165.75 265.7h5.5M165.75 297.8h5.5" stroke="#000" stroke-width="1.3" fill="none"/>
<path d="M38.5 291 L38.75 290.43 L38.99 289.86 L39.23 289.28 L39.48 288.71 L39.72 288.14 L39.97 287.57 L40.22 287 L40.48 286.44 L40.75 285.87 L41.03 285.32 L41.31 284.76 L41.6 284.21 L41.88 283.66 L42.17 283.1 L42.44 282.55 L42.71 281.99 L42.97 281.42 L43.23 280.86 L43.49 280.29 L43.74 279.72 L43.99 279.15 L44.24 278.58 L44.48 278 L44.71 277.43 L44.94 276.85 L45.15 276.26 L45.36 275.68 L45.56 275.09 L45.75 274.5 L45.94 273.91 L46.13 273.31 L46.31 272.72 L46.49 272.12 L46.67 271.52 L46.85 270.93 L47.03 270.33 L47.21 269.74 L47.39 269.14 L47.57 268.55 L47.75 267.95 L47.94 267.36 L48.12 266.76 L48.31 266.17 L48.49 265.57 L48.67 264.98 L48.85 264.38 L49.03 263.79 L49.2 263.19 L49.38 262.59 L49.55 261.99 L49.71 261.4 L49.88 260.8 L50.04 260.19 L50.2 259.59 L50.35 258.99 L50.51 258.39 L50.66 257.78 L50.8 257.18 L50.95 256.57 L51.09 255.97 L51.23 255.36 L51.37 254.76 L51.5 254.15 L51.62 253.54 L51.74 252.93 L51.86 252.32 L51.98 251.71 L52.1 251.1 L52.23 250.49 L52.35 249.88 L52.48 249.27 L52.61 248.66 L52.74 248.05 L52.88 247.45 L53.02 246.84 L53.15 246.23 L53.29 245.63 L53.43 245.02 L53.57 244.41 L53.71 243.81 L53.86 243.2 L54 242.6 L54.14 241.99 L54.29 241.39 L54.43 240.78 L54.58 240.18 L54.72 239.57 L54.86 238.96 L55 238.36 L55.14 237.75 L55.28 237.14 L55.42 236.54 L55.57 235.93 L55.73 235.33 L55.89 234.73 L56.05 234.13 L56.23 233.54 L56.41 232.94 L56.6 232.35 L56.8 231.76 L57.01 231.17 L57.21 230.59 L57.43 230 L57.65 229.42 L57.87 228.84 L58.09 228.26 L58.32 227.68 L58.55 227.1 L58.79 226.52 L59.02 225.95 L59.26 225.37 L59.49 224.79 L59.72 224.21 L59.95 223.62 L60.18 223.04 L60.42 222.46 L60.67 221.89 L60.92 221.32 L61.19 220.75 L61.46 220.2 L61.75 219.66 L62.06 219.12 L62.39 218.6 L62.75 218.1 L63.14 217.62 L63.56 217.15 L64 216.7 L64.45 216.26 L64.92 215.84 L65.4 215.43 L65.88 215.04 L66.37 214.66 L66.87 214.29 L67.39 213.94 L67.92 213.6 L68.46 213.28 L69.01 212.98 L69.56 212.69 L70.12 212.43 L70.69 212.19 L71.28 212.03 L71.9 211.92 L72.53 211.83 L73.15 211.73 L73.75 211.59 L74.33 211.36 L74.88 211.09 L75.42 210.78 L75.96 210.46 L76.49 210.14 L77.04 209.83 L77.6 209.56 L78.17 209.31 L78.74 209.07 L79.33 208.85 L79.91 208.65 L80.51 208.45 L81.1 208.27 L81.7 208.09 L82.29 207.91 L82.89 207.73 L83.49 207.56 L84.1 207.4 L84.7 207.24 L85.3 207.1 L85.91 206.97 L86.52 206.86 L87.14 206.77 L87.75 206.69 L88.37 206.62 L88.99 206.56 L89.61 206.51 L90.23 206.46 L90.85 206.42 L91.47 206.39 L92.1 206.37 L92.72 206.34 L93.34 206.33 L93.97 206.31 L94.59 206.31 L95.21 206.3 L95.83 206.29 L96.45 206.29 L97.08 206.3 L97.7 206.3 L98.32 206.31 L98.94 206.33 L99.56 206.34 L100.19 206.36 L100.81 206.39 L101.43 206.41 L102.05 206.44 L102.67 206.47 L103.3 206.5 L103.92 206.53 L104.54 206.57 L105.16 206.61 L105.78 206.65 L106.4 206.7 L107.02 206.74 L107.64 206.79 L108.26 206.84 L108.88 206.9 L109.5 206.95 L110.12 207.01 L110.74 207.07 L111.36 207.14 L111.98 207.2 L112.6 207.27 L113.21 207.34 L113.83 207.4 L114.45 207.48 L115.07 207.55 L115.69 207.62 L116.3 207.7 L116.92 207.77 L117.54 207.85 L118.15 207.93 L118.77 208.01 L119.39 208.09 L120 208.17 L120.62 208.25 L121.24 208.34 L121.85 208.42 L122.47 208.51 L123.09 208.59 L123.7 208.68 L124.32 208.77 L124.93 208.86 L125.55 208.95 L126.17 209.03 L126.78 209.12 L127.4 209.21 L128.01 209.31 L128.63 209.4 L129.24 209.49 L129.86 209.58 L130.47 209.67 L131.09 209.76 L131.7 209.86 L132.32 209.96 L132.93 210.05 L133.55 210.15 L134.16 210.25 L134.78 210.35 L135.39 210.45 L136 210.55 L136.62 210.65 L137.23 210.75 L137.84 210.86 L138.46 210.96 L139.07 211.06 L139.69 211.16 L140.3 211.26 L140.91 211.36 L141.53 211.46 L142.14 211.56 L142.76 211.65 L143.37 211.75 L143.99 211.85 L144.6 211.94 L145.22 212.03 L145.83 212.12 L146.45 212.22 L147.06 212.31 L147.68 212.4 L148.29 212.49 L148.91 212.58 L149.52 212.67 L150.14 212.76 L150.76 212.85 L151.37 212.94 L151.99 213.02 L152.6 213.11 L153.22 213.2 L153.83 213.29 L154.45 213.38 L155.07 213.46 L155.68 213.55 L156.3 213.64 L156.91 213.73 L157.53 213.81 L158.15 213.9 L158.76 213.99 L159.38 214.08 L159.99 214.16 L160.61 214.25 L161.23 214.34 L161.84 214.42 L162.46 214.51 L163.07 214.6 L163.69 214.69 L164.3 214.77 L164.92 214.86 L165.54 214.95 L166.15 215.04 L166.77 215.12 L167.38 215.21 L168 215.3" fill="none" stroke="#0000ff" stroke-width="1.25" stroke-dasharray="9 5" stroke-linecap="butt" stroke-linejoin="round"/>
<path d="M38.5 291 L38.76 290.4 L39.01 289.8 L39.27 289.2 L39.52 288.61 L39.78 288.01 L40.04 287.41 L40.31 286.82 L40.58 286.23 L40.87 285.64 L41.16 285.06 L41.46 284.48 L41.76 283.91 L42.05 283.33 L42.35 282.75 L42.63 282.16 L42.91 281.57 L43.18 280.98 L43.45 280.39 L43.71 279.79 L43.98 279.2 L44.23 278.6 L44.48 278 L44.72 277.39 L44.96 276.79 L45.18 276.18 L45.4 275.56 L45.6 274.95 L45.81 274.33 L46 273.71 L46.2 273.09 L46.39 272.46 L46.57 271.84 L46.76 271.22 L46.95 270.59 L47.14 269.97 L47.32 269.35 L47.52 268.72 L47.71 268.1 L47.9 267.48 L48.09 266.86 L48.29 266.24 L48.48 265.61 L48.67 264.99 L48.85 264.37 L49.04 263.75 L49.22 263.12 L49.4 262.5 L49.58 261.87 L49.75 261.24 L49.93 260.62 L50.09 259.99 L50.26 259.36 L50.42 258.73 L50.58 258.1 L50.74 257.46 L50.89 256.83 L51.04 256.2 L51.19 255.56 L51.33 254.93 L51.46 254.29 L51.6 253.66 L51.73 253.02 L51.85 252.38 L51.98 251.74 L52.1 251.1 L52.23 250.46 L52.36 249.83 L52.49 249.19 L52.63 248.55 L52.77 247.92 L52.91 247.28 L53.06 246.65 L53.2 246.02 L53.35 245.38 L53.5 244.75 L53.64 244.11 L53.79 243.48 L53.94 242.85 L54.09 242.21 L54.24 241.58 L54.39 240.95 L54.54 240.31 L54.69 239.68 L54.84 239.05 L54.99 238.41 L55.13 237.78 L55.28 237.14 L55.43 236.51 L55.59 235.88 L55.75 235.25 L55.92 234.62 L56.09 233.99 L56.28 233.37 L56.47 232.75 L56.68 232.13 L56.89 231.52 L57.1 230.9 L57.32 230.29 L57.55 229.68 L57.78 229.07 L58.01 228.46 L58.25 227.86 L58.49 227.25 L58.74 226.65 L58.98 226.04 L59.23 225.44 L59.47 224.83 L59.71 224.22 L59.95 223.61 L60.2 223.01 L60.45 222.4 L60.7 221.8 L60.97 221.2 L61.25 220.62 L61.55 220.04 L61.86 219.48 L62.19 218.92 L62.54 218.39 L62.94 217.87 L63.36 217.37 L63.81 216.89 L64.28 216.43 L64.76 215.98 L65.26 215.55 L65.76 215.14 L66.27 214.74 L66.79 214.35 L67.33 213.98 L67.89 213.63 L68.45 213.29 L69.02 212.97 L69.6 212.67 L70.19 212.4 L70.78 212.15 L71.4 211.95 L72.03 211.8 L72.68 211.68 L73.33 211.59 L73.98 211.5 L74.63 211.42 L75.28 211.35 L75.94 211.31 L76.59 211.32 L77.23 211.39 L77.87 211.51 L78.5 211.66 L79.14 211.83 L79.77 212.02 L80.39 212.23 L81 212.47 L81.59 212.74 L82.17 213.04 L82.73 213.35 L83.29 213.68 L83.85 214.01 L84.4 214.35 L84.95 214.71 L85.49 215.06 L86.04 215.43 L86.57 215.8 L87.11 216.18 L87.64 216.56 L88.17 216.94 L88.7 217.33 L89.22 217.72 L89.74 218.11 L90.26 218.5 L90.77 218.9 L91.28 219.31 L91.78 219.73 L92.27 220.15 L92.75 220.59 L93.23 221.04 L93.7 221.49 L94.16 221.95 L94.61 222.41 L95.06 222.89 L95.5 223.37 L95.93 223.86 L96.35 224.35 L96.77 224.85 L97.19 225.35 L97.61 225.85 L98.03 226.36 L98.44 226.86 L98.86 227.37 L99.27 227.87 L99.69 228.37 L100.12 228.86 L100.55 229.35 L100.98 229.83 L101.42 230.31 L101.87 230.78 L102.33 231.23 L102.79 231.68 L103.28 232.12 L103.78 232.54 L104.29 232.95 L104.82 233.34 L105.37 233.71 L105.92 234.07 L106.48 234.41 L107.05 234.73 L107.62 235.02 L108.2 235.29 L108.81 235.53 L109.43 235.73 L110.06 235.91 L110.71 236.04 L111.36 236.15 L112.02 236.23 L112.67 236.28 L113.31 236.31 L113.96 236.31 L114.6 236.28 L115.26 236.23 L115.91 236.16 L116.56 236.07 L117.21 235.96 L117.85 235.84 L118.49 235.71 L119.13 235.57 L119.76 235.42 L120.38 235.26 L121.01 235.08 L121.63 234.9 L122.26 234.72 L122.88 234.52 L123.5 234.33 L124.12 234.13 L124.74 233.93 L125.36 233.73 L125.98 233.52 L126.6 233.33 L127.23 233.13 L127.85 232.94 L128.47 232.76 L129.1 232.57 L129.72 232.38 L130.34 232.19 L130.96 232 L131.59 231.81 L132.21 231.62 L132.83 231.43 L133.46 231.24 L134.08 231.06 L134.71 230.88 L135.33 230.7 L135.96 230.53 L136.59 230.36 L137.22 230.19 L137.85 230.04 L138.48 229.89 L139.11 229.74 L139.75 229.59 L140.38 229.45 L141.02 229.31 L141.65 229.17 L142.29 229.04 L142.93 228.91 L143.56 228.78 L144.2 228.65 L144.84 228.52 L145.48 228.4 L146.12 228.28 L146.76 228.16 L147.4 228.05 L148.04 227.93 L148.68 227.82 L149.33 227.71 L149.97 227.61 L150.61 227.5 L151.25 227.4 L151.89 227.29 L152.54 227.19 L153.18 227.09 L153.82 227 L154.47 226.9 L155.11 226.8 L155.75 226.71 L156.4 226.62 L157.04 226.53 L157.69 226.43 L158.33 226.34 L158.98 226.25 L159.62 226.16 L160.26 226.08 L160.91 225.99 L161.55 225.9 L162.2 225.81 L162.84 225.72 L163.49 225.63 L164.13 225.54 L164.78 225.45 L165.42 225.37 L166.07 225.28 L166.71 225.18 L167.36 225.09 L168 225" fill="none" stroke="#0000ff" stroke-width="1.25" stroke-dasharray="7.5 2.5 1.5 2.5" stroke-linecap="butt" stroke-linejoin="round"/>
<path d="M38.5 291 L38.92 290.52 L39.34 290.04 L39.77 289.57 L40.2 289.1 L40.62 288.62 L41.04 288.14 L41.45 287.66 L41.85 287.16 L42.22 286.65 L42.58 286.13 L42.93 285.6 L43.27 285.06 L43.61 284.52 L43.93 283.97 L44.25 283.42 L44.56 282.86 L44.86 282.3 L45.16 281.73 L45.44 281.16 L45.72 280.59 L45.99 280.02 L46.25 279.44 L46.51 278.86 L46.75 278.27 L46.99 277.68 L47.22 277.09 L47.44 276.49 L47.65 275.89 L47.86 275.29 L48.07 274.68 L48.27 274.08 L48.46 273.47 L48.65 272.86 L48.83 272.26 L49.01 271.65 L49.18 271.03 L49.34 270.42 L49.5 269.8 L49.66 269.19 L49.81 268.57 L49.96 267.95 L50.11 267.33 L50.25 266.71 L50.4 266.09 L50.55 265.47 L50.69 264.86 L50.84 264.24 L51 263.62 L51.15 263 L51.3 262.39 L51.45 261.77 L51.6 261.15 L51.75 260.53 L51.91 259.91 L52.06 259.3 L52.21 258.68 L52.36 258.06 L52.51 257.44 L52.66 256.82 L52.81 256.21 L52.96 255.59 L53.12 254.97 L53.27 254.36 L53.43 253.74 L53.59 253.12 L53.75 252.51 L53.92 251.9 L54.1 251.29 L54.28 250.68 L54.47 250.07 L54.66 249.46 L54.85 248.86 L55.04 248.25 L55.24 247.65 L55.44 247.04 L55.64 246.44 L55.84 245.83 L56.04 245.23 L56.24 244.63 L56.44 244.02 L56.64 243.42 L56.84 242.82 L57.04 242.21 L57.24 241.61 L57.44 241 L57.63 240.4 L57.83 239.79 L58.02 239.19 L58.2 238.58 L58.39 237.97 L58.57 237.36 L58.76 236.75 L58.95 236.15 L59.14 235.54 L59.34 234.93 L59.54 234.33 L59.75 233.73 L59.96 233.13 L60.18 232.54 L60.4 231.94 L60.63 231.34 L60.86 230.75 L61.1 230.16 L61.35 229.57 L61.6 228.99 L61.86 228.41 L62.13 227.84 L62.42 227.27 L62.7 226.7 L62.99 226.12 L63.28 225.54 L63.58 224.97 L63.88 224.39 L64.19 223.83 L64.52 223.28 L64.87 222.75 L65.23 222.23 L65.61 221.74 L66.02 221.28 L66.47 220.84 L66.96 220.43 L67.48 220.06 L68.03 219.71 L68.61 219.4 L69.19 219.11 L69.79 218.86 L70.38 218.64 L70.98 218.45 L71.59 218.27 L72.21 218.12 L72.84 217.99 L73.48 217.88 L74.12 217.79 L74.76 217.73 L75.4 217.7 L76.04 217.68 L76.67 217.7 L77.29 217.74 L77.92 217.81 L78.55 217.91 L79.18 218.02 L79.81 218.16 L80.44 218.33 L81.06 218.51 L81.67 218.7 L82.27 218.92 L82.86 219.14 L83.45 219.39 L84.03 219.64 L84.61 219.9 L85.18 220.18 L85.75 220.47 L86.32 220.77 L86.88 221.08 L87.43 221.4 L87.98 221.73 L88.52 222.08 L89.05 222.43 L89.57 222.79 L90.08 223.16 L90.59 223.54 L91.08 223.94 L91.57 224.34 L92.05 224.76 L92.52 225.18 L92.99 225.61 L93.46 226.05 L93.92 226.49 L94.38 226.93 L94.84 227.38 L95.29 227.83 L95.75 228.27 L96.2 228.72 L96.66 229.17 L97.11 229.61 L97.57 230.06 L98.01 230.51 L98.46 230.97 L98.9 231.43 L99.33 231.89 L99.77 232.36 L100.21 232.82 L100.64 233.29 L101.08 233.75 L101.52 234.21 L101.96 234.67 L102.41 235.12 L102.87 235.56 L103.33 235.99 L103.8 236.42 L104.27 236.84 L104.76 237.24 L105.26 237.64 L105.78 238.03 L106.3 238.4 L106.83 238.76 L107.37 239.11 L107.92 239.43 L108.47 239.73 L109.03 240.02 L109.61 240.27 L110.22 240.48 L110.84 240.66 L111.47 240.81 L112.1 240.91 L112.74 240.98 L113.37 241.01 L114 241.01 L114.64 240.99 L115.28 240.93 L115.92 240.85 L116.55 240.75 L117.18 240.62 L117.79 240.46 L118.4 240.28 L119 240.09 L119.6 239.88 L120.2 239.67 L120.8 239.45 L121.39 239.21 L121.98 238.98 L122.57 238.73 L123.16 238.48 L123.74 238.22 L124.33 237.96 L124.91 237.7 L125.49 237.44 L126.06 237.17 L126.64 236.9 L127.22 236.63 L127.79 236.36 L128.36 236.08 L128.93 235.8 L129.5 235.51 L130.07 235.23 L130.64 234.94 L131.2 234.65 L131.77 234.36 L132.33 234.07 L132.9 233.78 L133.47 233.49 L134.03 233.2 L134.6 232.91 L135.16 232.62 L135.73 232.33 L136.3 232.05 L136.87 231.76 L137.44 231.48 L138.01 231.2 L138.58 230.92 L139.15 230.63 L139.72 230.35 L140.29 230.07 L140.86 229.78 L141.43 229.5 L142 229.23 L142.58 228.96 L143.16 228.69 L143.74 228.43 L144.32 228.18 L144.91 227.94 L145.5 227.7 L146.09 227.47 L146.68 227.24 L147.28 227.01 L147.87 226.78 L148.47 226.56 L149.06 226.34 L149.66 226.12 L150.26 225.9 L150.86 225.69 L151.46 225.48 L152.06 225.27 L152.66 225.07 L153.27 224.87 L153.87 224.67 L154.48 224.47 L155.08 224.28 L155.69 224.09 L156.3 223.91 L156.91 223.73 L157.52 223.55 L158.13 223.38 L158.74 223.22 L159.36 223.05 L159.97 222.89 L160.59 222.74 L161.21 222.58 L161.82 222.43 L162.44 222.27 L163.06 222.12 L163.68 221.97 L164.3 221.82 L164.91 221.67 L165.53 221.52 L166.15 221.37 L166.77 221.21 L167.38 221.06 L168 220.9" fill="none" stroke="#0000ff" stroke-width="1.3" stroke-linecap="butt" stroke-linejoin="round"/>
<path d="M38.5 291 L38.66 290.81 L38.83 290.62 L39 290.43 L39.17 290.24 L39.34 290.05 L39.51 289.86 L39.68 289.67 L39.85 289.48 L40.02 289.3 L40.19 289.11 L40.36 288.92 L40.53 288.73 L40.7 288.54 L40.86 288.35 L41.03 288.16 L41.19 287.97 L41.36 287.77 L41.52 287.58 L41.68 287.38 L41.83 287.18 L41.98 286.98 L42.13 286.78 L42.28 286.57 L42.42 286.37 L42.56 286.16 L42.7 285.95 L42.84 285.74 L42.98 285.53 L43.12 285.31 L43.25 285.1 L43.39 284.88 L43.52 284.67 L43.65 284.45 L43.78 284.23 L43.91 284.01 L44.04 283.8 L44.16 283.58 L44.29 283.35 L44.41 283.13 L44.54 282.91 L44.66 282.69 L44.78 282.46 L44.9 282.24 L45.01 282.02 L45.13 281.79 L45.25 281.56 L45.36 281.34 L45.47 281.11 L45.58 280.88 L45.69 280.66 L45.8 280.43 L45.91 280.2 L46.01 279.97 L46.12 279.74 L46.22 279.51 L46.32 279.28 L46.42 279.05 L46.52 278.81 L46.62 278.58 L46.72 278.35 L46.81 278.11 L46.91 277.88 L47 277.64 L47.09 277.41 L47.18 277.17 L47.27 276.93 L47.36 276.7 L47.45 276.46 L47.54 276.22 L47.62 275.98 L47.71 275.74 L47.79 275.5 L47.87 275.26 L47.95 275.02 L48.04 274.78 L48.12 274.54 L48.19 274.3 L48.27 274.06 L48.35 273.82 L48.43 273.58 L48.5 273.34 L48.58 273.1 L48.65 272.85 L48.73 272.61 L48.8 272.37 L48.87 272.13 L48.94 271.88 L49.01 271.64 L49.08 271.4 L49.15 271.16 L49.21 270.91 L49.28 270.67 L49.34 270.42 L49.41 270.18 L49.47 269.93 L49.53 269.69 L49.59 269.44 L49.66 269.2 L49.72 268.95 L49.78 268.71 L49.84 268.46 L49.9 268.21 L49.96 267.97 L50.01 267.72 L50.07 267.47 L50.13 267.23 L50.19 266.98 L50.25 266.74 L50.31 266.49 L50.36 266.24 L50.42 266 L50.48 265.75 L50.54 265.5 L50.6 265.26 L50.66 265.01 L50.71 264.76 L50.77 264.52 L50.83 264.27 L50.89 264.03 L50.95 263.78 L51.02 263.54 L51.08 263.29 L51.14 263.05 L51.2 262.8 L51.26 262.55 L51.32 262.31 L51.38 262.06 L51.44 261.82 L51.5 261.57 L51.56 261.33 L51.62 261.08 L51.68 260.83 L51.74 260.59 L51.8 260.34 L51.86 260.1 L51.92 259.85 L51.98 259.6 L52.04 259.36 L52.1 259.11 L52.16 258.87 L52.22 258.62 L52.28 258.38 L52.34 258.13 L52.4 257.88 L52.46 257.64 L52.52 257.39 L52.58 257.15 L52.64 256.9 L52.7 256.66 L52.76 256.41 L52.82 256.16 L52.88 255.92 L52.94 255.67 L53 255.43 L53.07 255.18 L53.13 254.94 L53.19 254.69 L53.25 254.45 L53.31 254.2 L53.38 253.96 L53.44 253.71 L53.5 253.47 L53.56 253.22 L53.63 252.98 L53.69 252.73 L53.76 252.49 L53.82 252.24 L53.89 252 L53.96 251.76 L54.03 251.51 L54.1 251.27 L54.17 251.03 L54.24 250.79 L54.32 250.54 L54.39 250.3 L54.47 250.06 L54.54 249.82 L54.62 249.58 L54.7 249.34 L54.77 249.09 L54.85 248.85 L54.93 248.61 L55.01 248.37 L55.08 248.13 L55.16 247.89 L55.24 247.65 L55.32 247.41 L55.4 247.17 L55.47 246.93 L55.55 246.69 L55.63 246.45 L55.71 246.21 L55.79 245.97 L55.87 245.73 L55.95 245.49 L56.03 245.25 L56.11 245.01 L56.19 244.77 L56.27 244.53 L56.35 244.29 L56.43 244.05 L56.51 243.81 L56.59 243.57 L56.67 243.33 L56.75 243.09 L56.83 242.85 L56.91 242.61 L56.99 242.37 L57.07 242.13 L57.15 241.89 L57.23 241.65 L57.3 241.41 L57.38 241.17 L57.46 240.92 L57.54 240.68 L57.62 240.44 L57.7 240.2 L57.77 239.96 L57.85 239.72 L57.92 239.48 L58 239.24 L58.07 239 L58.15 238.75 L58.22 238.51 L58.3 238.27 L58.37 238.03 L58.44 237.79 L58.52 237.54 L58.59 237.3 L58.67 237.06 L58.74 236.82 L58.82 236.58 L58.89 236.33 L58.97 236.09 L59.04 235.85 L59.12 235.61 L59.2 235.37 L59.27 235.13 L59.35 234.89 L59.43 234.65 L59.51 234.41 L59.59 234.17 L59.68 233.93 L59.76 233.69 L59.84 233.45 L59.93 233.22 L60.02 232.98 L60.1 232.74 L60.19 232.5 L60.28 232.27 L60.37 232.03 L60.46 231.79 L60.55 231.55 L60.64 231.32 L60.73 231.08 L60.82 230.85 L60.92 230.61 L61.01 230.38 L61.11 230.14 L61.21 229.91 L61.3 229.67 L61.4 229.44 L61.5 229.21 L61.61 228.98 L61.71 228.74 L61.81 228.51 L61.92 228.29 L62.03 228.06 L62.14 227.83 L62.25 227.6 L62.36 227.38 L62.48 227.15 L62.59 226.93 L62.71 226.71 L62.83 226.48 L62.96 226.26 L63.08 226.04 L63.21 225.82 L63.33 225.61 L63.46 225.39 L63.59 225.17 L63.72 224.96 L63.86 224.74 L63.99 224.52 L64.12 224.31 L64.26 224.09 L64.39 223.88 L64.53 223.67 L64.66 223.45 L64.8 223.24 L64.93 223.02 L65.07 222.81 L65.2 222.59 L65.34 222.38 L65.47 222.16 L65.6 221.95 L65.74 221.73 L65.87 221.52 L66 221.3" fill="none" stroke="#ff00ff" stroke-width="1.9" stroke-dasharray="0.1 3.4" stroke-linecap="round" stroke-linejoin="round"/>
<path d="M91 237.4 L91.11 237.59 L91.22 237.78 L91.33 237.96 L91.43 238.15 L91.54 238.34 L91.65 238.53 L91.76 238.72 L91.86 238.91 L91.97 239.1 L92.08 239.29 L92.19 239.47 L92.29 239.66 L92.4 239.85 L92.51 240.04 L92.61 240.23 L92.72 240.42 L92.83 240.61 L92.94 240.8 L93.04 240.99 L93.15 241.18 L93.26 241.37 L93.36 241.55 L93.47 241.74 L93.58 241.93 L93.69 242.12 L93.79 242.31 L93.9 242.5 L94.01 242.69 L94.12 242.87 L94.23 243.06 L94.34 243.25 L94.44 243.44 L94.55 243.63 L94.66 243.81 L94.77 244 L94.88 244.19 L94.99 244.38 L95.1 244.56 L95.22 244.75 L95.33 244.94 L95.44 245.12 L95.55 245.31 L95.66 245.49 L95.78 245.68 L95.89 245.86 L96.01 246.05 L96.12 246.23 L96.23 246.42 L96.35 246.6 L96.47 246.78 L96.58 246.97 L96.7 247.15 L96.81 247.34 L96.93 247.52 L97.04 247.7 L97.16 247.89 L97.28 248.07 L97.39 248.25 L97.51 248.44 L97.63 248.62 L97.75 248.8 L97.86 248.99 L97.98 249.17 L98.1 249.35 L98.22 249.53 L98.34 249.71 L98.46 249.9 L98.57 250.08 L98.69 250.26 L98.81 250.44 L98.93 250.62 L99.05 250.8 L99.17 250.98 L99.29 251.17 L99.42 251.35 L99.54 251.53 L99.66 251.71 L99.78 251.89 L99.9 252.07 L100.03 252.25 L100.15 252.42 L100.27 252.6 L100.4 252.78 L100.52 252.96 L100.64 253.14 L100.77 253.32 L100.89 253.49 L101.02 253.67 L101.14 253.85 L101.27 254.03 L101.4 254.2 L101.52 254.38 L101.65 254.55 L101.78 254.73 L101.9 254.91 L102.03 255.08 L102.16 255.26 L102.29 255.43 L102.42 255.6 L102.55 255.78 L102.68 255.95 L102.81 256.12 L102.94 256.3 L103.08 256.47 L103.21 256.64 L103.34 256.81 L103.47 256.98 L103.61 257.16 L103.74 257.33 L103.88 257.5 L104.01 257.67 L104.15 257.84 L104.28 258.01 L104.42 258.18 L104.56 258.35 L104.69 258.52 L104.83 258.68 L104.97 258.85 L105.1 259.02 L105.24 259.19 L105.38 259.36 L105.52 259.52 L105.66 259.69 L105.8 259.86 L105.94 260.02 L106.08 260.19 L106.22 260.36 L106.36 260.52 L106.5 260.69 L106.64 260.86 L106.78 261.02 L106.92 261.19 L107.06 261.35 L107.2 261.52 L107.34 261.68 L107.48 261.85 L107.62 262.01 L107.77 262.18 L107.91 262.34 L108.05 262.51 L108.19 262.67 L108.33 262.83 L108.48 263 L108.62 263.16 L108.76 263.33 L108.9 263.49 L109.05 263.65 L109.19 263.82 L109.33 263.98 L109.47 264.15 L109.62 264.31 L109.76 264.47 L109.91 264.64 L110.05 264.8 L110.19 264.96 L110.34 265.12 L110.48 265.29 L110.63 265.45 L110.77 265.61 L110.92 265.77 L111.06 265.93 L111.21 266.1 L111.35 266.26 L111.5 266.42 L111.65 266.58 L111.79 266.74 L111.94 266.9 L112.09 267.06 L112.23 267.22 L112.38 267.38 L112.53 267.54 L112.68 267.7 L112.83 267.86 L112.97 268.01 L113.12 268.17 L113.27 268.33 L113.42 268.49 L113.57 268.64 L113.72 268.8 L113.87 268.96 L114.03 269.11 L114.18 269.27 L114.33 269.42 L114.48 269.58 L114.63 269.73 L114.79 269.89 L114.94 270.04 L115.09 270.19 L115.25 270.35 L115.4 270.5 L115.56 270.65 L115.71 270.8 L115.87 270.95 L116.02 271.11 L116.18 271.26 L116.34 271.41 L116.49 271.56 L116.65 271.71 L116.81 271.86 L116.96 272.01 L117.12 272.16 L117.28 272.31 L117.44 272.45 L117.6 272.6 L117.76 272.75 L117.92 272.9 L118.08 273.04 L118.24 273.19 L118.4 273.34 L118.56 273.48 L118.73 273.63 L118.89 273.77 L119.05 273.92 L119.21 274.06 L119.38 274.21 L119.54 274.35 L119.7 274.49 L119.87 274.63 L120.03 274.78 L120.2 274.92 L120.36 275.06 L120.53 275.2 L120.69 275.34 L120.86 275.48 L121.03 275.62 L121.19 275.76 L121.36 275.9 L121.53 276.03 L121.7 276.17 L121.86 276.31 L122.03 276.45 L122.2 276.58 L122.37 276.72 L122.54 276.85 L122.71 276.99 L122.88 277.12 L123.05 277.25 L123.22 277.39 L123.4 277.52 L123.57 277.65 L123.74 277.78 L123.92 277.91 L124.09 278.04 L124.27 278.17 L124.44 278.3 L124.62 278.43 L124.79 278.56 L124.97 278.69 L125.14 278.81 L125.32 278.94 L125.5 279.07 L125.68 279.19 L125.85 279.32 L126.03 279.44 L126.21 279.56 L126.39 279.69 L126.57 279.81 L126.75 279.93 L126.93 280.06 L127.11 280.18 L127.29 280.3 L127.47 280.42 L127.65 280.54 L127.84 280.66 L128.02 280.78 L128.2 280.9 L128.38 281.01 L128.56 281.13 L128.75 281.25 L128.93 281.37 L129.11 281.48 L129.3 281.6 L129.48 281.71 L129.66 281.82 L129.85 281.93 L130.04 282.04 L130.23 282.15 L130.42 282.25 L130.61 282.36 L130.8 282.46 L130.99 282.56 L131.19 282.66 L131.38 282.76 L131.57 282.86 L131.77 282.95 L131.96 283.05 L132.16 283.14 L132.35 283.24 L132.55 283.33 L132.75 283.43 L132.94 283.52 L133.14 283.62 L133.33 283.72 L133.53 283.81 L133.72 283.91 L133.92 284 L134.11 284.1 L134.31 284.2 L134.5 284.3" fill="none" stroke="#000" stroke-width="1.25" stroke-dasharray="2.7 2.0" stroke-linecap="butt" stroke-linejoin="round"/>
<circle cx="47.5" cy="272.9" r="3.15" fill="#000"/>
<circle cx="52.8" cy="252.1" r="3.15" fill="#000"/>
<circle cx="60.2" cy="228" r="3.15" fill="#000"/>
<circle cx="68.9" cy="221" r="3.15" fill="#000"/>
<circle cx="79.3" cy="223.1" r="3.15" fill="#000"/>
<circle cx="91.3" cy="230" r="3.15" fill="#000"/>
<circle cx="108.5" cy="230.6" r="3.15" fill="#000"/>
<circle cx="134.4" cy="247.4" r="3.15" fill="#000"/>
<circle cx="168.5" cy="281.8" r="3.15" fill="#000"/>
<rect x="38.5" y="199.5" width="161" height="127" fill="none" stroke="#3c3c3c" stroke-width="1"/>
<text x="31.5" y="223.7" text-anchor="end" class="tk">1</text>
<text x="33.9" y="259.2" text-anchor="end" class="tk">0.5</text>
<text x="31.5" y="294.7" text-anchor="end" class="tk">0</text>
<text x="33.9" y="330.2" text-anchor="end" class="tk">-0.5</text>
</g>
<g>
<path d="M47.1 450.9 L47.1 447.3 L55 447.1 L59.8 446.5 L65 447.1 L76 447.5 L100 447.6 L120 447.2 L133.9 446.3 L150 447 L169.2 447.6 L169.2 450.9Z" fill="#6b4a2e"/>
<path d="M38.5 389.35H199.5" stroke="#1a1a1a" stroke-width="1"/>
<path d="M38.5 448.33h2.7M199.5 448.33h-2.7M38.5 438.5h5.2M199.5 438.5h-5.2M38.5 428.67h2.7M199.5 428.67h-2.7M38.5 418.84h2.7M199.5 418.84h-2.7M38.5 409.01h2.7M199.5 409.01h-2.7M38.5 399.18h2.7M199.5 399.18h-2.7M38.5 389.35h5.2M199.5 389.35h-5.2M38.5 379.52h2.7M199.5 379.52h-2.7M38.5 369.69h2.7M199.5 369.69h-2.7M38.5 359.86h2.7M199.5 359.86h-2.7M38.5 350.03h2.7M199.5 350.03h-2.7M38.5 340.2h5.2M199.5 340.2h-5.2M43.69 457.5v-2.4M43.69 330.5v2.4M48.89 457.5v-2.4M48.89 330.5v2.4M54.08 457.5v-2.4M54.08 330.5v2.4M59.28 457.5v-2.4M59.28 330.5v2.4M64.47 457.5v-4.9M64.47 330.5v4.9M69.66 457.5v-2.4M69.66 330.5v2.4M74.86 457.5v-2.4M74.86 330.5v2.4M80.05 457.5v-2.4M80.05 330.5v2.4M85.25 457.5v-2.4M85.25 330.5v2.4M90.44 457.5v-4.9M90.44 330.5v4.9M95.63 457.5v-2.4M95.63 330.5v2.4M100.83 457.5v-2.4M100.83 330.5v2.4M106.02 457.5v-2.4M106.02 330.5v2.4M111.22 457.5v-2.4M111.22 330.5v2.4M116.41 457.5v-4.9M116.41 330.5v4.9M121.6 457.5v-2.4M121.6 330.5v2.4M126.8 457.5v-2.4M126.8 330.5v2.4M131.99 457.5v-2.4M131.99 330.5v2.4M137.19 457.5v-2.4M137.19 330.5v2.4M142.38 457.5v-4.9M142.38 330.5v4.9M147.57 457.5v-2.4M147.57 330.5v2.4M152.77 457.5v-2.4M152.77 330.5v2.4M157.96 457.5v-2.4M157.96 330.5v2.4M163.16 457.5v-2.4M163.16 330.5v2.4M168.35 457.5v-4.9M168.35 330.5v4.9M173.54 457.5v-2.4M173.54 330.5v2.4M178.74 457.5v-2.4M178.74 330.5v2.4M183.93 457.5v-2.4M183.93 330.5v2.4M189.13 457.5v-2.4M189.13 330.5v2.4M194.32 457.5v-4.9M194.32 330.5v4.9" stroke="#000" stroke-width="1" fill="none" opacity="0.48"/>
<path d="M44.4 362H48.9M47.5 356.5V367.4M44.4 359.25v5.5M48.9 359.25v5.5M44.75 356.5h5.5M44.75 367.4h5.5M51.4 364.5H56.7M52.8 358.8V369.6M51.4 361.75v5.5M56.7 361.75v5.5M50.05 358.8h5.5M50.05 369.6h5.5M56.3 365.8H64.2M60.2 359.4V372.2M56.3 363.05v5.5M64.2 363.05v5.5M57.45 359.4h5.5M57.45 372.2h5.5M63.6 367.4H74.5M68.9 360.5V374.8M63.6 364.65v5.5M74.5 364.65v5.5M66.15 360.5h5.5M66.15 374.8h5.5M74.5 371.6H85M79.3 364.6V380.1M74.5 368.85v5.5M85 368.85v5.5M76.55 364.6h5.5M76.55 380.1h5.5M84.9 371.3H98M91.3 363V380.1M84.9 368.55v5.5M98 368.55v5.5M88.55 363h5.5M88.55 380.1h5.5M98 387.3H124.1M108.5 379.3V395.3M98 384.55v5.5M124.1 384.55v5.5M105.75 379.3h5.5M105.75 395.3h5.5M124.1 415.9H152.4M134.4 398.1V433M124.1 413.15v5.5M152.4 413.15v5.5M131.65 398.1h5.5M131.65 433h5.5M152.4 407H194.2M168.5 373.2V440.9M152.4 404.25v5.5M194.2 404.25v5.5M165.75 373.2h5.5M165.75 440.9h5.5" stroke="#000" stroke-width="1.3" fill="none"/>
<path d="M38.5 388.7 L38.6 388.14 L38.7 387.58 L38.8 387.01 L38.89 386.45 L38.99 385.89 L39.08 385.32 L39.18 384.76 L39.27 384.2 L39.37 383.63 L39.47 383.07 L39.58 382.51 L39.69 381.95 L39.8 381.39 L39.92 380.84 L40.05 380.28 L40.18 379.72 L40.31 379.17 L40.44 378.61 L40.57 378.05 L40.7 377.49 L40.84 376.94 L40.98 376.38 L41.12 375.83 L41.27 375.28 L41.43 374.73 L41.58 374.18 L41.75 373.63 L41.92 373.09 L42.1 372.55 L42.29 372.01 L42.48 371.48 L42.7 370.95 L42.93 370.43 L43.18 369.91 L43.44 369.4 L43.71 368.89 L43.99 368.39 L44.29 367.9 L44.58 367.41 L44.89 366.93 L45.21 366.45 L45.68 365.92 L46.18 365.66 L46.53 365.9 L46.85 366.29 L47.16 366.77 L47.46 367.3 L47.74 367.86 L48.02 368.42 L48.28 368.96 L48.53 369.47 L48.78 369.98 L49.02 370.5 L49.25 371.02 L49.48 371.54 L49.71 372.07 L49.94 372.59 L50.16 373.12 L50.39 373.64 L50.62 374.16 L50.86 374.68 L51.09 375.2 L51.33 375.72 L51.57 376.24 L51.8 376.76 L52.04 377.28 L52.28 377.8 L52.51 378.32 L52.75 378.84 L52.99 379.36 L53.23 379.88 L53.47 380.39 L53.72 380.91 L53.97 381.42 L54.22 381.94 L54.47 382.45 L54.73 382.95 L54.99 383.46 L55.25 383.97 L55.52 384.47 L55.79 384.98 L56.06 385.48 L56.34 385.98 L56.62 386.48 L56.91 386.97 L57.2 387.46 L57.5 387.95 L57.8 388.43 L58.11 388.91 L58.42 389.39 L58.74 389.86 L59.05 390.34 L59.38 390.81 L59.7 391.28 L60.03 391.75 L60.36 392.22 L60.7 392.68 L61.04 393.14 L61.38 393.6 L61.73 394.05 L62.08 394.5 L62.44 394.94 L62.81 395.38 L63.18 395.81 L63.57 396.22 L63.96 396.63 L64.37 397.03 L64.79 397.42 L65.21 397.81 L65.64 398.19 L66.06 398.57 L66.49 398.95 L66.91 399.34 L67.33 399.73 L67.74 400.13 L68.14 400.54 L68.52 400.96 L68.9 401.39 L69.27 401.83 L69.63 402.27 L69.99 402.71 L70.35 403.16 L70.72 403.6 L71.09 404.03 L71.47 404.45 L71.86 404.86 L72.27 405.26 L72.69 405.66 L73.11 406.04 L73.54 406.43 L73.98 406.8 L74.42 407.16 L74.88 407.5 L75.35 407.83 L75.83 408.14 L76.32 408.42 L76.81 408.71 L77.31 408.98 L77.81 409.25 L78.32 409.51 L78.83 409.77 L79.34 410.02 L79.86 410.27 L80.38 410.51 L80.91 410.74 L81.43 410.97 L81.96 411.19 L82.49 411.41 L83.02 411.62 L83.55 411.83 L84.08 412.03 L84.62 412.22 L85.16 412.4 L85.7 412.57 L86.25 412.73 L86.8 412.89 L87.35 413.04 L87.91 413.18 L88.46 413.31 L89.02 413.45 L89.58 413.58 L90.13 413.71 L90.69 413.84 L91.25 413.96 L91.8 414.09 L92.36 414.22 L92.92 414.35 L93.47 414.48 L94.03 414.61 L94.59 414.74 L95.14 414.87 L95.7 415 L96.26 415.12 L96.82 415.24 L97.38 415.36 L97.93 415.48 L98.49 415.59 L99.05 415.7 L99.62 415.8 L100.18 415.91 L100.74 416 L101.3 416.09 L101.86 416.18 L102.43 416.26 L102.99 416.34 L103.56 416.42 L104.13 416.49 L104.69 416.56 L105.26 416.62 L105.83 416.69 L106.39 416.75 L106.96 416.8 L107.53 416.86 L108.1 416.91 L108.67 416.96 L109.24 417.01 L109.81 417.05 L110.38 417.09 L110.95 417.13 L111.52 417.17 L112.09 417.2 L112.66 417.23 L113.23 417.26 L113.8 417.29 L114.37 417.32 L114.94 417.34 L115.51 417.36 L116.08 417.38 L116.65 417.4 L117.22 417.42 L117.79 417.44 L118.36 417.46 L118.93 417.47 L119.5 417.49 L120.07 417.5 L120.64 417.51 L121.21 417.52 L121.79 417.53 L122.36 417.54 L122.93 417.55 L123.5 417.56 L124.07 417.57 L124.64 417.57 L125.21 417.58 L125.78 417.58 L126.35 417.59 L126.92 417.59 L127.5 417.6 L128.07 417.6 L128.64 417.6 L129.21 417.6 L129.78 417.6 L130.35 417.6 L130.92 417.6 L131.49 417.6 L132.06 417.6 L132.63 417.6 L133.2 417.6 L133.78 417.6 L134.35 417.6 L134.92 417.6 L135.49 417.59 L136.06 417.59 L136.63 417.58 L137.2 417.57 L137.77 417.56 L138.34 417.55 L138.91 417.54 L139.48 417.53 L140.05 417.52 L140.62 417.5 L141.19 417.49 L141.76 417.47 L142.34 417.46 L142.91 417.44 L143.48 417.42 L144.05 417.4 L144.62 417.39 L145.19 417.37 L145.76 417.35 L146.33 417.33 L146.9 417.31 L147.47 417.29 L148.04 417.27 L148.61 417.25 L149.18 417.23 L149.75 417.21 L150.32 417.19 L150.89 417.17 L151.46 417.15 L152.03 417.12 L152.6 417.1 L153.17 417.08 L153.74 417.06 L154.32 417.03 L154.89 417.01 L155.46 416.98 L156.03 416.96 L156.6 416.93 L157.17 416.91 L157.74 416.88 L158.31 416.85 L158.88 416.83 L159.45 416.8 L160.02 416.77 L160.59 416.75 L161.16 416.72 L161.73 416.69 L162.3 416.66 L162.87 416.64 L163.44 416.61 L164.01 416.58 L164.58 416.56 L165.15 416.53 L165.72 416.5 L166.29 416.48 L166.86 416.45 L167.43 416.43 L168 416.4" fill="none" stroke="#0000ff" stroke-width="1.25" stroke-dasharray="9 5" stroke-linecap="butt" stroke-linejoin="round"/>
<path d="M38.5 388.7 L38.6 388.13 L38.7 387.57 L38.8 387 L38.89 386.43 L38.99 385.87 L39.08 385.3 L39.18 384.73 L39.28 384.17 L39.38 383.6 L39.48 383.03 L39.59 382.47 L39.7 381.9 L39.81 381.34 L39.94 380.78 L40.06 380.22 L40.19 379.66 L40.32 379.1 L40.45 378.54 L40.59 377.98 L40.72 377.42 L40.86 376.86 L41 376.3 L41.15 375.74 L41.3 375.18 L41.45 374.63 L41.61 374.08 L41.78 373.53 L41.96 372.98 L42.14 372.44 L42.33 371.9 L42.53 371.36 L42.75 370.83 L42.98 370.31 L43.24 369.79 L43.5 369.27 L43.78 368.76 L44.07 368.26 L44.37 367.76 L44.67 367.28 L44.97 366.79 L45.33 366.29 L45.84 365.79 L46.29 365.7 L46.63 366.01 L46.95 366.44 L47.26 366.94 L47.55 367.48 L47.84 368.05 L48.11 368.61 L48.37 369.14 L48.62 369.65 L48.87 370.17 L49.11 370.7 L49.34 371.22 L49.57 371.75 L49.8 372.27 L50.03 372.8 L50.26 373.33 L50.49 373.86 L50.72 374.38 L50.96 374.91 L51.2 375.43 L51.44 375.95 L51.67 376.48 L51.91 377 L52.15 377.52 L52.39 378.05 L52.63 378.57 L52.87 379.09 L53.11 379.62 L53.35 380.14 L53.6 380.66 L53.85 381.17 L54.1 381.69 L54.35 382.21 L54.61 382.72 L54.87 383.23 L55.13 383.74 L55.4 384.25 L55.67 384.76 L55.94 385.27 L56.22 385.77 L56.5 386.27 L56.79 386.77 L57.08 387.27 L57.38 387.76 L57.68 388.25 L57.99 388.73 L58.3 389.21 L58.62 389.69 L58.94 390.17 L59.26 390.65 L59.59 391.12 L59.92 391.6 L60.25 392.07 L60.59 392.54 L60.93 393 L61.27 393.46 L61.62 393.92 L61.98 394.37 L62.34 394.81 L62.71 395.26 L63.08 395.69 L63.46 396.12 L63.85 396.54 L64.24 396.96 L64.64 397.37 L65.05 397.78 L65.47 398.18 L65.89 398.58 L66.31 398.97 L66.75 399.35 L67.18 399.73 L67.62 400.1 L68.06 400.47 L68.5 400.83 L68.96 401.19 L69.41 401.54 L69.88 401.89 L70.35 402.23 L70.83 402.56 L71.31 402.87 L71.81 403.17 L72.3 403.45 L72.81 403.71 L73.33 403.95 L73.86 404.17 L74.41 404.38 L74.96 404.57 L75.53 404.72 L76.1 404.85 L76.67 404.94 L77.24 404.99 L77.81 405 L78.37 404.98 L78.94 404.95 L79.51 404.9 L80.08 404.84 L80.66 404.77 L81.23 404.68 L81.8 404.59 L82.37 404.48 L82.94 404.37 L83.51 404.24 L84.08 404.11 L84.64 403.97 L85.2 403.82 L85.75 403.67 L86.3 403.51 L86.85 403.35 L87.4 403.17 L87.94 403 L88.49 402.81 L89.03 402.62 L89.57 402.43 L90.11 402.23 L90.65 402.02 L91.19 401.81 L91.72 401.6 L92.26 401.38 L92.79 401.15 L93.32 400.92 L93.85 400.69 L94.37 400.46 L94.9 400.22 L95.42 399.98 L95.94 399.73 L96.45 399.48 L96.96 399.21 L97.46 398.93 L97.96 398.65 L98.45 398.35 L98.94 398.05 L99.43 397.74 L99.92 397.43 L100.4 397.12 L100.89 396.82 L101.38 396.51 L101.87 396.2 L102.36 395.91 L102.86 395.62 L103.36 395.34 L103.86 395.07 L104.38 394.81 L104.89 394.54 L105.41 394.28 L105.94 394.02 L106.47 393.77 L107 393.53 L107.54 393.31 L108.08 393.1 L108.62 392.92 L109.17 392.77 L109.72 392.65 L110.27 392.56 L110.84 392.5 L111.41 392.46 L111.98 392.45 L112.56 392.46 L113.14 392.48 L113.72 392.52 L114.3 392.58 L114.88 392.65 L115.46 392.73 L116.04 392.82 L116.6 392.93 L117.17 393.03 L117.73 393.15 L118.28 393.28 L118.84 393.42 L119.39 393.57 L119.95 393.72 L120.5 393.88 L121.05 394.05 L121.6 394.23 L122.15 394.4 L122.69 394.59 L123.24 394.77 L123.79 394.95 L124.34 395.14 L124.88 395.33 L125.43 395.51 L125.97 395.69 L126.52 395.87 L127.06 396.06 L127.6 396.25 L128.14 396.44 L128.68 396.64 L129.22 396.84 L129.76 397.04 L130.3 397.24 L130.84 397.44 L131.38 397.64 L131.92 397.84 L132.46 398.04 L133 398.24 L133.54 398.43 L134.08 398.62 L134.63 398.81 L135.17 398.99 L135.72 399.17 L136.26 399.36 L136.81 399.54 L137.35 399.73 L137.89 399.91 L138.44 400.1 L138.98 400.28 L139.53 400.47 L140.07 400.66 L140.62 400.84 L141.16 401.02 L141.71 401.21 L142.26 401.39 L142.8 401.57 L143.35 401.75 L143.9 401.92 L144.44 402.1 L144.99 402.27 L145.54 402.44 L146.09 402.61 L146.64 402.77 L147.19 402.93 L147.75 403.09 L148.3 403.25 L148.85 403.4 L149.41 403.55 L149.96 403.69 L150.52 403.83 L151.08 403.97 L151.64 404.1 L152.19 404.23 L152.75 404.36 L153.32 404.48 L153.88 404.6 L154.44 404.72 L155 404.84 L155.56 404.95 L156.13 405.07 L156.69 405.18 L157.26 405.29 L157.82 405.4 L158.39 405.5 L158.95 405.61 L159.52 405.72 L160.08 405.82 L160.65 405.92 L161.22 406.03 L161.78 406.13 L162.35 406.23 L162.91 406.34 L163.48 406.44 L164.05 406.54 L164.61 406.65 L165.18 406.76 L165.74 406.86 L166.31 406.97 L166.87 407.08 L167.44 407.19 L168 407.3" fill="none" stroke="#0000ff" stroke-width="1.25" stroke-dasharray="7.5 2.5 1.5 2.5" stroke-linecap="butt" stroke-linejoin="round"/>
<path d="M38.5 388.7 L38.6 388.15 L38.7 387.6 L38.79 387.05 L38.88 386.49 L38.98 385.94 L39.07 385.39 L39.16 384.84 L39.26 384.29 L39.35 383.73 L39.45 383.18 L39.56 382.63 L39.66 382.09 L39.77 381.54 L39.89 380.99 L40.01 380.45 L40.14 379.9 L40.26 379.35 L40.39 378.81 L40.52 378.26 L40.65 377.72 L40.78 377.17 L40.92 376.63 L41.06 376.08 L41.2 375.54 L41.35 375 L41.5 374.46 L41.66 373.92 L41.83 373.39 L42 372.86 L42.18 372.33 L42.36 371.81 L42.56 371.28 L42.77 370.77 L43 370.25 L43.24 369.74 L43.5 369.23 L43.76 368.74 L44.04 368.25 L44.33 367.77 L44.63 367.29 L44.94 366.83 L45.27 366.38 L45.68 365.95 L46.16 365.58 L46.66 365.35 L47.16 365.3 L47.7 365.42 L48.25 365.67 L48.75 365.99 L49.17 366.36 L49.56 366.75 L49.94 367.15 L50.31 367.58 L50.66 368.02 L51.01 368.47 L51.34 368.93 L51.66 369.4 L51.97 369.86 L52.28 370.33 L52.58 370.8 L52.87 371.28 L53.16 371.76 L53.44 372.24 L53.72 372.72 L54 373.21 L54.27 373.7 L54.55 374.19 L54.82 374.68 L55.09 375.17 L55.36 375.66 L55.63 376.15 L55.91 376.63 L56.18 377.12 L56.45 377.61 L56.72 378.11 L56.98 378.6 L57.24 379.1 L57.5 379.6 L57.76 380.1 L58.02 380.6 L58.28 381.09 L58.54 381.59 L58.8 382.09 L59.07 382.58 L59.34 383.07 L59.61 383.56 L59.89 384.04 L60.17 384.52 L60.46 385 L60.75 385.47 L61.06 385.94 L61.38 386.38 L61.75 386.79 L62.16 387.18 L62.58 387.55 L63.01 387.92 L63.44 388.29 L63.86 388.66 L64.26 389.06 L64.64 389.47 L65.02 389.89 L65.39 390.31 L65.76 390.73 L66.13 391.15 L66.5 391.57 L66.88 391.99 L67.25 392.41 L67.64 392.81 L68.03 393.21 L68.44 393.59 L68.85 393.96 L69.28 394.32 L69.71 394.67 L70.16 395.02 L70.62 395.35 L71.08 395.68 L71.55 396 L72.03 396.29 L72.51 396.58 L73.01 396.84 L73.51 397.08 L74.01 397.31 L74.53 397.51 L75.06 397.7 L75.59 397.88 L76.14 398.05 L76.69 398.2 L77.25 398.32 L77.81 398.43 L78.37 398.51 L78.93 398.57 L79.48 398.6 L80.03 398.6 L80.58 398.57 L81.13 398.52 L81.68 398.45 L82.23 398.37 L82.78 398.26 L83.33 398.14 L83.87 398.01 L84.42 397.87 L84.97 397.72 L85.52 397.56 L86.06 397.4 L86.6 397.23 L87.14 397.07 L87.68 396.9 L88.21 396.73 L88.74 396.56 L89.27 396.39 L89.8 396.2 L90.33 396.01 L90.85 395.82 L91.37 395.62 L91.89 395.41 L92.41 395.2 L92.93 394.99 L93.45 394.78 L93.97 394.56 L94.49 394.34 L95 394.12 L95.52 393.91 L96.03 393.69 L96.54 393.46 L97.05 393.23 L97.56 392.99 L98.06 392.74 L98.57 392.49 L99.07 392.24 L99.57 391.99 L100.07 391.73 L100.57 391.48 L101.08 391.24 L101.58 391 L102.09 390.77 L102.6 390.54 L103.12 390.33 L103.64 390.13 L104.16 389.94 L104.69 389.76 L105.23 389.59 L105.77 389.43 L106.31 389.27 L106.86 389.12 L107.41 388.99 L107.96 388.86 L108.51 388.76 L109.07 388.67 L109.62 388.59 L110.18 388.54 L110.73 388.51 L111.28 388.49 L111.83 388.5 L112.39 388.53 L112.95 388.58 L113.5 388.64 L114.06 388.71 L114.62 388.81 L115.18 388.91 L115.73 389.03 L116.29 389.15 L116.83 389.29 L117.38 389.43 L117.92 389.58 L118.45 389.73 L118.98 389.9 L119.51 390.08 L120.04 390.26 L120.56 390.45 L121.08 390.66 L121.61 390.86 L122.12 391.08 L122.64 391.3 L123.16 391.52 L123.67 391.75 L124.18 391.98 L124.7 392.21 L125.21 392.44 L125.72 392.67 L126.22 392.9 L126.73 393.14 L127.23 393.39 L127.73 393.65 L128.22 393.91 L128.72 394.18 L129.21 394.45 L129.7 394.72 L130.19 394.99 L130.69 395.26 L131.18 395.53 L131.67 395.79 L132.17 396.05 L132.67 396.3 L133.17 396.55 L133.68 396.78 L134.19 397.01 L134.7 397.22 L135.22 397.42 L135.74 397.62 L136.27 397.82 L136.79 398.01 L137.32 398.19 L137.84 398.38 L138.37 398.56 L138.9 398.74 L139.43 398.92 L139.96 399.09 L140.5 399.27 L141.03 399.44 L141.56 399.61 L142.1 399.77 L142.63 399.94 L143.17 400.1 L143.71 400.26 L144.24 400.42 L144.78 400.58 L145.32 400.74 L145.86 400.9 L146.39 401.06 L146.93 401.21 L147.47 401.37 L148.01 401.52 L148.55 401.68 L149.08 401.84 L149.62 401.99 L150.16 402.15 L150.7 402.3 L151.24 402.45 L151.77 402.61 L152.31 402.76 L152.85 402.91 L153.39 403.06 L153.93 403.2 L154.47 403.35 L155.01 403.5 L155.55 403.64 L156.09 403.79 L156.63 403.93 L157.17 404.07 L157.71 404.22 L158.25 404.36 L158.8 404.5 L159.34 404.64 L159.88 404.78 L160.42 404.92 L160.96 405.06 L161.5 405.2 L162.05 405.34 L162.59 405.48 L163.13 405.62 L163.67 405.76 L164.21 405.9 L164.75 406.05 L165.29 406.19 L165.84 406.33 L166.38 406.47 L166.92 406.61 L167.46 406.76 L168 406.9" fill="none" stroke="#0000ff" stroke-width="1.3" stroke-linecap="butt" stroke-linejoin="round"/>
<path d="M38.5 388.7 L38.54 388.48 L38.58 388.26 L38.62 388.05 L38.66 387.83 L38.69 387.61 L38.73 387.39 L38.77 387.18 L38.81 386.96 L38.84 386.74 L38.88 386.52 L38.92 386.3 L38.95 386.09 L38.99 385.87 L39.03 385.65 L39.06 385.43 L39.1 385.21 L39.14 384.99 L39.17 384.78 L39.21 384.56 L39.25 384.34 L39.29 384.12 L39.32 383.91 L39.36 383.69 L39.4 383.47 L39.44 383.25 L39.48 383.04 L39.52 382.82 L39.56 382.6 L39.6 382.38 L39.65 382.17 L39.69 381.95 L39.73 381.73 L39.78 381.52 L39.82 381.3 L39.87 381.09 L39.92 380.87 L39.96 380.65 L40.01 380.44 L40.06 380.22 L40.11 380.01 L40.16 379.79 L40.21 379.58 L40.26 379.36 L40.31 379.15 L40.36 378.93 L40.41 378.71 L40.46 378.5 L40.51 378.28 L40.56 378.07 L40.62 377.85 L40.67 377.64 L40.72 377.42 L40.77 377.2 L40.83 376.99 L40.88 376.77 L40.93 376.56 L40.99 376.34 L41.04 376.13 L41.1 375.91 L41.16 375.7 L41.21 375.49 L41.27 375.27 L41.33 375.06 L41.39 374.85 L41.45 374.63 L41.51 374.42 L41.58 374.21 L41.64 374 L41.7 373.79 L41.77 373.57 L41.83 373.36 L41.9 373.15 L41.97 372.94 L42.04 372.74 L42.11 372.53 L42.18 372.32 L42.25 372.11 L42.33 371.9 L42.4 371.7 L42.48 371.49 L42.56 371.29 L42.64 371.08 L42.72 370.87 L42.81 370.67 L42.9 370.47 L42.99 370.26 L43.09 370.06 L43.18 369.86 L43.28 369.66 L43.38 369.46 L43.48 369.26 L43.59 369.06 L43.69 368.87 L43.8 368.67 L43.91 368.48 L44.02 368.28 L44.13 368.09 L44.25 367.9 L44.36 367.71 L44.48 367.53 L44.6 367.34 L44.72 367.16 L44.84 366.98 L44.96 366.8 L45.09 366.62 L45.22 366.44 L45.37 366.26 L45.53 366.09 L45.71 365.92 L45.89 365.77 L46.09 365.63 L46.28 365.51 L46.48 365.41 L46.68 365.34 L46.87 365.3 L47.07 365.29 L47.27 365.31 L47.49 365.36 L47.71 365.42 L47.92 365.51 L48.14 365.61 L48.35 365.73 L48.55 365.85 L48.74 365.99 L48.92 366.13 L49.08 366.28 L49.24 366.42 L49.4 366.58 L49.55 366.73 L49.7 366.89 L49.85 367.05 L50 367.22 L50.14 367.38 L50.29 367.55 L50.43 367.72 L50.57 367.9 L50.71 368.07 L50.84 368.25 L50.98 368.43 L51.11 368.61 L51.24 368.79 L51.37 368.98 L51.5 369.16 L51.63 369.34 L51.75 369.53 L51.87 369.71 L52 369.89 L52.12 370.08 L52.24 370.26 L52.36 370.45 L52.48 370.64 L52.59 370.82 L52.71 371.01 L52.83 371.2 L52.94 371.39 L53.06 371.57 L53.17 371.76 L53.28 371.95 L53.4 372.14 L53.51 372.33 L53.62 372.52 L53.73 372.72 L53.84 372.91 L53.95 373.1 L54.06 373.29 L54.17 373.48 L54.28 373.68 L54.39 373.87 L54.49 374.06 L54.6 374.26 L54.71 374.45 L54.82 374.64 L54.92 374.84 L55.03 375.03 L55.14 375.23 L55.24 375.42 L55.35 375.61 L55.46 375.81 L55.56 376 L55.67 376.2 L55.78 376.39 L55.88 376.58 L55.99 376.78 L56.09 376.97 L56.2 377.17 L56.3 377.36 L56.41 377.55 L56.51 377.75 L56.62 377.94 L56.72 378.14 L56.83 378.33 L56.93 378.53 L57.03 378.73 L57.13 378.92 L57.24 379.12 L57.34 379.31 L57.44 379.51 L57.54 379.71 L57.64 379.9 L57.75 380.1 L57.85 380.29 L57.95 380.49 L58.05 380.69 L58.15 380.88 L58.25 381.08 L58.35 381.28 L58.45 381.47 L58.55 381.67 L58.66 381.87 L58.76 382.06 L58.86 382.26 L58.96 382.46 L59.06 382.65 L59.16 382.85 L59.26 383.05 L59.36 383.24 L59.47 383.44 L59.57 383.63 L59.67 383.83 L59.77 384.03 L59.88 384.22 L59.98 384.42 L60.08 384.61 L60.18 384.81 L60.29 385 L60.39 385.2 L60.5 385.39 L60.6 385.59 L60.71 385.78 L60.81 385.98 L60.92 386.17 L61.03 386.36 L61.14 386.56 L61.24 386.75 L61.35 386.94 L61.46 387.13 L61.57 387.32 L61.68 387.52 L61.8 387.71 L61.91 387.9 L62.02 388.09 L62.13 388.28 L62.24 388.47 L62.36 388.66 L62.47 388.85 L62.58 389.04 L62.7 389.23 L62.81 389.42 L62.92 389.61 L63.04 389.8 L63.15 389.99 L63.27 390.18 L63.38 390.36 L63.49 390.55 L63.61 390.74 L63.72 390.93 L63.84 391.12 L63.95 391.31 L64.07 391.5 L64.18 391.69 L64.3 391.88 L64.41 392.06 L64.53 392.25 L64.64 392.44 L64.76 392.63 L64.88 392.82 L64.99 393 L65.11 393.19 L65.23 393.38 L65.35 393.57 L65.46 393.75 L65.58 393.94 L65.7 394.13 L65.82 394.31 L65.94 394.5 L66.06 394.69 L66.18 394.87 L66.3 395.06 L66.42 395.24 L66.54 395.43 L66.66 395.61 L66.78 395.79 L66.91 395.98 L67.03 396.16 L67.15 396.34 L67.28 396.53 L67.4 396.71 L67.53 396.89 L67.65 397.07 L67.78 397.26 L67.9 397.44 L68.03 397.62 L68.15 397.8 L68.28 397.99 L68.4 398.17 L68.53 398.35 L68.65 398.53 L68.78 398.72 L68.9 398.9" fill="none" stroke="#ff00ff" stroke-width="1.9" stroke-dasharray="0.1 3.4" stroke-linecap="round" stroke-linejoin="round"/>
<path d="M91.5 391.5 L91.64 391.44 L91.79 391.38 L91.93 391.32 L92.08 391.26 L92.22 391.2 L92.36 391.14 L92.51 391.08 L92.65 391.01 L92.79 390.95 L92.94 390.89 L93.08 390.83 L93.23 390.77 L93.37 390.71 L93.52 390.65 L93.66 390.59 L93.8 390.53 L93.95 390.47 L94.09 390.41 L94.24 390.35 L94.38 390.29 L94.52 390.23 L94.67 390.17 L94.81 390.11 L94.96 390.05 L95.1 389.99 L95.24 389.93 L95.39 389.87 L95.53 389.81 L95.68 389.75 L95.82 389.69 L95.96 389.63 L96.11 389.57 L96.25 389.51 L96.4 389.45 L96.54 389.39 L96.68 389.32 L96.83 389.26 L96.97 389.2 L97.11 389.14 L97.26 389.08 L97.4 389.02 L97.54 388.95 L97.69 388.89 L97.83 388.83 L97.97 388.77 L98.12 388.7 L98.26 388.64 L98.4 388.58 L98.54 388.51 L98.69 388.45 L98.83 388.39 L98.97 388.32 L99.11 388.26 L99.26 388.2 L99.4 388.13 L99.54 388.07 L99.68 388 L99.82 387.94 L99.97 387.87 L100.11 387.81 L100.25 387.75 L100.39 387.68 L100.54 387.62 L100.68 387.55 L100.82 387.49 L100.96 387.42 L101.1 387.36 L101.25 387.29 L101.39 387.23 L101.53 387.17 L101.67 387.1 L101.82 387.04 L101.96 386.97 L102.1 386.91 L102.24 386.84 L102.38 386.78 L102.53 386.71 L102.67 386.65 L102.81 386.58 L102.95 386.52 L103.09 386.45 L103.24 386.39 L103.38 386.32 L103.52 386.26 L103.66 386.19 L103.8 386.13 L103.95 386.06 L104.09 386 L104.23 385.93 L104.37 385.87 L104.51 385.8 L104.66 385.74 L104.8 385.67 L104.94 385.61 L105.08 385.54 L105.22 385.48 L105.36 385.41 L105.51 385.35 L105.65 385.28 L105.79 385.22 L105.93 385.15 L106.07 385.09 L106.22 385.02 L106.36 384.96 L106.5 384.89 L106.64 384.82 L106.78 384.76 L106.92 384.69 L107.07 384.63 L107.21 384.56 L107.35 384.5 L107.49 384.43 L107.63 384.37 L107.77 384.3 L107.92 384.24 L108.06 384.17 L108.2 384.1 L108.34 384.04 L108.48 383.97 L108.63 383.91 L108.77 383.84 L108.91 383.78 L109.05 383.71 L109.19 383.65 L109.33 383.58 L109.48 383.52 L109.62 383.45 L109.76 383.38 L109.9 383.32 L110.04 383.25 L110.18 383.19 L110.33 383.12 L110.47 383.06 L110.61 382.99 L110.75 382.92 L110.89 382.86 L111.03 382.79 L111.18 382.73 L111.32 382.66 L111.46 382.6 L111.6 382.53 L111.74 382.47 L111.88 382.4 L112.03 382.33 L112.17 382.27 L112.31 382.2 L112.45 382.14 L112.59 382.07 L112.73 382.01 L112.88 381.94 L113.02 381.88 L113.16 381.81 L113.3 381.75 L113.44 381.68 L113.58 381.61 L113.73 381.55 L113.87 381.48 L114.01 381.42 L114.15 381.35 L114.29 381.29 L114.44 381.22 L114.58 381.16 L114.72 381.09 L114.86 381.03 L115 380.96 L115.14 380.89 L115.29 380.83 L115.43 380.76 L115.57 380.7 L115.71 380.63 L115.85 380.57 L115.99 380.5 L116.14 380.44 L116.28 380.37 L116.42 380.31 L116.56 380.24 L116.7 380.18 L116.85 380.11 L116.99 380.05 L117.13 379.98 L117.27 379.91 L117.41 379.85 L117.55 379.78 L117.7 379.72 L117.84 379.65 L117.98 379.59 L118.12 379.52 L118.26 379.46 L118.41 379.39 L118.55 379.33 L118.69 379.26 L118.83 379.2 L118.97 379.13 L119.11 379.07 L119.26 379 L119.4 378.94 L119.54 378.87 L119.68 378.8 L119.82 378.74 L119.97 378.67 L120.11 378.61 L120.25 378.54 L120.39 378.48 L120.53 378.41 L120.67 378.35 L120.82 378.28 L120.96 378.22 L121.1 378.15 L121.24 378.09 L121.38 378.02 L121.52 377.95 L121.67 377.89 L121.81 377.82 L121.95 377.76 L122.09 377.69 L122.23 377.63 L122.38 377.56 L122.52 377.5 L122.66 377.43 L122.8 377.37 L122.94 377.3 L123.08 377.24 L123.23 377.17 L123.37 377.1 L123.51 377.04 L123.65 376.97 L123.79 376.91 L123.93 376.84 L124.08 376.78 L124.22 376.71 L124.36 376.65 L124.5 376.58 L124.64 376.52 L124.79 376.45 L124.93 376.39 L125.07 376.32 L125.21 376.25 L125.35 376.19 L125.49 376.12 L125.64 376.06 L125.78 375.99 L125.92 375.93 L126.06 375.86 L126.2 375.8 L126.34 375.73 L126.49 375.67 L126.63 375.6 L126.77 375.54 L126.91 375.47 L127.05 375.4 L127.2 375.34 L127.34 375.27 L127.48 375.21 L127.62 375.14 L127.76 375.08 L127.9 375.01 L128.05 374.95 L128.19 374.88 L128.33 374.82 L128.47 374.75 L128.61 374.69 L128.75 374.62 L128.9 374.55 L129.04 374.49 L129.18 374.42 L129.32 374.36 L129.46 374.29 L129.61 374.23 L129.75 374.16 L129.89 374.1 L130.03 374.03 L130.17 373.97 L130.31 373.9 L130.46 373.83 L130.6 373.77 L130.74 373.7 L130.88 373.64 L131.02 373.57 L131.16 373.51 L131.31 373.44 L131.45 373.38 L131.59 373.31 L131.73 373.25 L131.87 373.18 L132.02 373.12 L132.16 373.05 L132.3 372.98 L132.44 372.92 L132.58 372.85 L132.72 372.79 L132.87 372.72 L133.01 372.66 L133.15 372.59 L133.29 372.53 L133.43 372.46 L133.57 372.4 L133.72 372.33 L133.86 372.27 L134 372.2" fill="none" stroke="#000" stroke-width="1.25" stroke-dasharray="3.3 2.5" stroke-linecap="butt" stroke-linejoin="round"/>
<circle cx="47.5" cy="362" r="3.15" fill="#000"/>
<circle cx="52.8" cy="364.5" r="3.15" fill="#000"/>
<circle cx="60.2" cy="365.8" r="3.15" fill="#000"/>
<circle cx="68.9" cy="367.4" r="3.15" fill="#000"/>
<circle cx="79.3" cy="371.6" r="3.15" fill="#000"/>
<circle cx="91.3" cy="371.3" r="3.15" fill="#000"/>
<circle cx="108.5" cy="387.3" r="3.15" fill="#000"/>
<circle cx="134.4" cy="415.9" r="3.15" fill="#000"/>
<circle cx="168.5" cy="407" r="3.15" fill="#000"/>
<rect x="38.5" y="330.5" width="161" height="127" fill="none" stroke="#3c3c3c" stroke-width="1"/>
<text x="33.9" y="343.6" text-anchor="end" class="tk">0.5</text>
<text x="31.5" y="392.75" text-anchor="end" class="tk">0</text>
<text x="33.9" y="441.9" text-anchor="end" class="tk">-0.5</text>
</g>
<text x="39.2" y="467.9" text-anchor="middle" class="tk">0</text>
<text x="65.17" y="467.9" text-anchor="middle" class="tk">100</text>
<text x="91.14" y="467.9" text-anchor="middle" class="tk">200</text>
<text x="117.11" y="467.9" text-anchor="middle" class="tk">300</text>
<text x="143.08" y="467.9" text-anchor="middle" class="tk">400</text>
<text x="169.05" y="467.9" text-anchor="middle" class="tk">500</text>
<text x="195.02" y="467.9" text-anchor="middle" class="tk">600</text>
<text x="95.9" y="480.7" class="it" letter-spacing="0.2">E<tspan class="sy" dx="-0.3" style="font-size:12px">γ</tspan>, MeV</text>
<text transform="translate(14.3 131.3) rotate(-90)" text-anchor="middle" class="it">T20</text>
<text transform="translate(14.3 263) rotate(-90)" text-anchor="middle" class="it">T21</text>
<text transform="translate(14.3 393.9) rotate(-90)" text-anchor="middle" class="it">T22</text>
<text x="70.4" y="61.2" class="sy" style="font-size:13px">θ</text>
<text x="77.4" y="55.1" class="it" style="font-size:9px" letter-spacing="0.3">cm</text>
<text x="77.2" y="65.0" class="it" style="font-size:8.5px">P</text>
<text x="91.3" y="62.5" class="it">=</text>
<text x="103.6" y="61.2" class="it">24</text>
<text x="116.2" y="55.3" class="it" style="font-size:9.5px">o</text>
<text x="124.8" y="62.0" class="it">-</text>
<text x="131.5" y="61.2" class="it" letter-spacing="0.5">48</text>
<text x="144.9" y="55.3" class="it" style="font-size:9.5px">o</text>
</svg>
</body></html>
